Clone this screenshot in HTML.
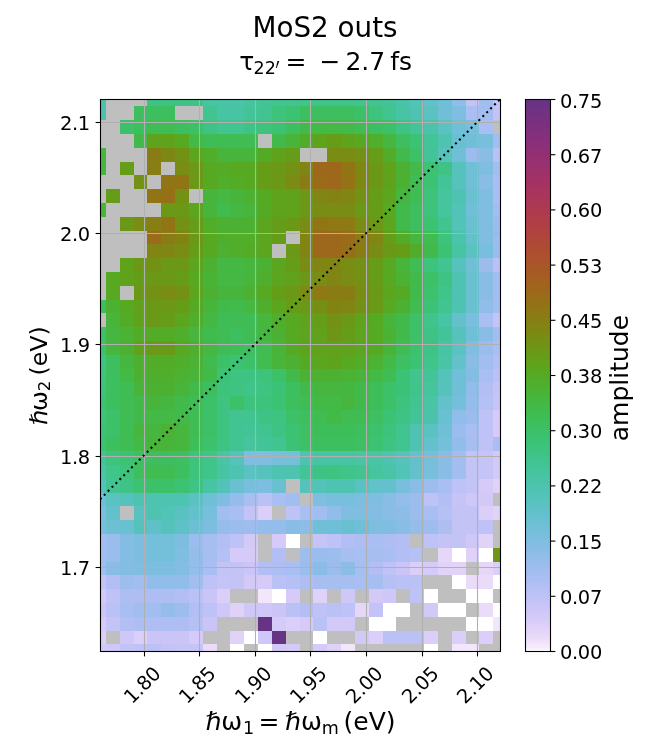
<!DOCTYPE html><html><head><meta charset="utf-8"><title>MoS2 outs</title>
<style>html,body{margin:0;padding:0;background:#fff}svg{display:block}text{font-family:"DejaVu Sans","Liberation Sans",sans-serif;fill:#000}</style></head><body>
<svg width="650" height="751" viewBox="0 0 650 751">
<rect width="650" height="751" fill="#fff"/>
<g shape-rendering="crispEdges">
<rect x="100.5" y="99.5" width="5.8" height="7.29" fill="#4bc3aa"/>
<rect x="106" y="99.5" width="41.79" height="7.29" fill="#bfbfbf"/>
<rect x="147.49" y="99.5" width="55.62" height="7.29" fill="#3ec384"/>
<rect x="202.81" y="99.5" width="27.96" height="7.29" fill="#47c4a3"/>
<rect x="230.47" y="99.5" width="14.13" height="7.29" fill="#4bc3aa"/>
<rect x="244.3" y="99.5" width="14.13" height="7.29" fill="#45c49d"/>
<rect x="258.13" y="99.5" width="14.13" height="7.29" fill="#43c498"/>
<rect x="271.96" y="99.5" width="27.96" height="7.29" fill="#41c490"/>
<rect x="299.62" y="99.5" width="55.62" height="7.29" fill="#3fc48a"/>
<rect x="354.94" y="99.5" width="14.13" height="7.29" fill="#41c490"/>
<rect x="368.77" y="99.5" width="14.13" height="7.29" fill="#41c492"/>
<rect x="382.6" y="99.5" width="14.13" height="7.29" fill="#43c498"/>
<rect x="396.43" y="99.5" width="14.13" height="7.29" fill="#4bc3aa"/>
<rect x="410.26" y="99.5" width="14.13" height="7.29" fill="#52c3b7"/>
<rect x="424.09" y="99.5" width="14.13" height="7.29" fill="#63c1cb"/>
<rect x="437.92" y="99.5" width="14.13" height="7.29" fill="#6fbfd6"/>
<rect x="451.75" y="99.5" width="14.13" height="7.29" fill="#90bdea"/>
<rect x="465.58" y="99.5" width="14.13" height="7.29" fill="#c4c3f6"/>
<rect x="479.41" y="99.5" width="14.13" height="7.29" fill="#a2bdf0"/>
<rect x="493.24" y="99.5" width="7.56" height="7.29" fill="#c4c3f6"/>
<rect x="100.5" y="106.49" width="5.8" height="14.09" fill="#4bc3aa"/>
<rect x="106" y="106.49" width="27.96" height="14.09" fill="#bfbfbf"/>
<rect x="133.66" y="106.49" width="41.79" height="14.09" fill="#3dbf5f"/>
<rect x="175.15" y="106.49" width="27.96" height="14.09" fill="#bfbfbf"/>
<rect x="202.81" y="106.49" width="14.13" height="14.09" fill="#41c490"/>
<rect x="216.64" y="106.49" width="27.96" height="14.09" fill="#47c4a3"/>
<rect x="244.3" y="106.49" width="14.13" height="14.09" fill="#43c498"/>
<rect x="258.13" y="106.49" width="14.13" height="14.09" fill="#41c490"/>
<rect x="271.96" y="106.49" width="14.13" height="14.09" fill="#3dc37c"/>
<rect x="285.79" y="106.49" width="14.13" height="14.09" fill="#3cc273"/>
<rect x="299.62" y="106.49" width="55.62" height="14.09" fill="#3dbf5f"/>
<rect x="354.94" y="106.49" width="14.13" height="14.09" fill="#3cc068"/>
<rect x="368.77" y="106.49" width="14.13" height="14.09" fill="#3ec381"/>
<rect x="382.6" y="106.49" width="14.13" height="14.09" fill="#41c492"/>
<rect x="396.43" y="106.49" width="14.13" height="14.09" fill="#47c4a3"/>
<rect x="410.26" y="106.49" width="14.13" height="14.09" fill="#4fc3b2"/>
<rect x="424.09" y="106.49" width="14.13" height="14.09" fill="#5bc2c2"/>
<rect x="437.92" y="106.49" width="14.13" height="14.09" fill="#6fbfd6"/>
<rect x="451.75" y="106.49" width="14.13" height="14.09" fill="#7fbee1"/>
<rect x="465.58" y="106.49" width="14.13" height="14.09" fill="#a9bef2"/>
<rect x="479.41" y="106.49" width="14.13" height="14.09" fill="#a2bdf0"/>
<rect x="493.24" y="106.49" width="7.56" height="14.09" fill="#c4c3f6"/>
<rect x="100.5" y="120.28" width="19.63" height="14.09" fill="#bfbfbf"/>
<rect x="119.83" y="120.28" width="14.13" height="14.09" fill="#3cc068"/>
<rect x="133.66" y="120.28" width="14.13" height="14.09" fill="#3dbf5f"/>
<rect x="147.49" y="120.28" width="27.96" height="14.09" fill="#3fbc54"/>
<rect x="175.15" y="120.28" width="14.13" height="14.09" fill="#3dbf5f"/>
<rect x="188.98" y="120.28" width="14.13" height="14.09" fill="#3cc068"/>
<rect x="202.81" y="120.28" width="14.13" height="14.09" fill="#3ec384"/>
<rect x="216.64" y="120.28" width="27.96" height="14.09" fill="#41c490"/>
<rect x="244.3" y="120.28" width="14.13" height="14.09" fill="#3ec384"/>
<rect x="258.13" y="120.28" width="14.13" height="14.09" fill="#3dc37c"/>
<rect x="271.96" y="120.28" width="14.13" height="14.09" fill="#3cc273"/>
<rect x="285.79" y="120.28" width="14.13" height="14.09" fill="#3dbf5f"/>
<rect x="299.62" y="120.28" width="14.13" height="14.09" fill="#41ba4b"/>
<rect x="313.45" y="120.28" width="27.96" height="14.09" fill="#43b946"/>
<rect x="341.11" y="120.28" width="14.13" height="14.09" fill="#41ba4b"/>
<rect x="354.94" y="120.28" width="14.13" height="14.09" fill="#3fbc54"/>
<rect x="368.77" y="120.28" width="14.13" height="14.09" fill="#3dbf5f"/>
<rect x="382.6" y="120.28" width="14.13" height="14.09" fill="#3cc068"/>
<rect x="396.43" y="120.28" width="14.13" height="14.09" fill="#3ec384"/>
<rect x="410.26" y="120.28" width="14.13" height="14.09" fill="#43c498"/>
<rect x="424.09" y="120.28" width="14.13" height="14.09" fill="#4bc3aa"/>
<rect x="437.92" y="120.28" width="14.13" height="14.09" fill="#5bc2c2"/>
<rect x="451.75" y="120.28" width="14.13" height="14.09" fill="#6fbfd6"/>
<rect x="465.58" y="120.28" width="14.13" height="14.09" fill="#78bedd"/>
<rect x="479.41" y="120.28" width="14.13" height="14.09" fill="#a9bef2"/>
<rect x="493.24" y="120.28" width="7.56" height="14.09" fill="#bfbfbf"/>
<rect x="100.5" y="134.07" width="33.46" height="14.09" fill="#bfbfbf"/>
<rect x="133.66" y="134.07" width="14.13" height="14.09" fill="#41ba4b"/>
<rect x="147.49" y="134.07" width="27.96" height="14.09" fill="#5fa21c"/>
<rect x="175.15" y="134.07" width="14.13" height="14.09" fill="#57a922"/>
<rect x="188.98" y="134.07" width="14.13" height="14.09" fill="#43b946"/>
<rect x="202.81" y="134.07" width="14.13" height="14.09" fill="#3ebd56"/>
<rect x="216.64" y="134.07" width="41.79" height="14.09" fill="#3fbc54"/>
<rect x="258.13" y="134.07" width="14.13" height="14.09" fill="#bfbfbf"/>
<rect x="271.96" y="134.07" width="14.13" height="14.09" fill="#41ba4b"/>
<rect x="285.79" y="134.07" width="14.13" height="14.09" fill="#48b439"/>
<rect x="299.62" y="134.07" width="14.13" height="14.09" fill="#52ac28"/>
<rect x="313.45" y="134.07" width="14.13" height="14.09" fill="#5fa21c"/>
<rect x="327.28" y="134.07" width="14.13" height="14.09" fill="#659d19"/>
<rect x="341.11" y="134.07" width="14.13" height="14.09" fill="#5fa21c"/>
<rect x="354.94" y="134.07" width="14.13" height="14.09" fill="#57a922"/>
<rect x="368.77" y="134.07" width="14.13" height="14.09" fill="#4faf2d"/>
<rect x="382.6" y="134.07" width="14.13" height="14.09" fill="#45b741"/>
<rect x="396.43" y="134.07" width="14.13" height="14.09" fill="#3dbf5f"/>
<rect x="410.26" y="134.07" width="14.13" height="14.09" fill="#3cc273"/>
<rect x="424.09" y="134.07" width="14.13" height="14.09" fill="#43c498"/>
<rect x="437.92" y="134.07" width="14.13" height="14.09" fill="#4fc3b2"/>
<rect x="451.75" y="134.07" width="14.13" height="14.09" fill="#69c0d1"/>
<rect x="465.58" y="134.07" width="14.13" height="14.09" fill="#6fbfd6"/>
<rect x="479.41" y="134.07" width="14.13" height="14.09" fill="#78bedd"/>
<rect x="493.24" y="134.07" width="7.56" height="14.09" fill="#a2bdf0"/>
<rect x="100.5" y="147.87" width="5.8" height="14.09" fill="#45b741"/>
<rect x="106" y="147.87" width="41.79" height="14.09" fill="#bfbfbf"/>
<rect x="147.49" y="147.87" width="14.13" height="14.09" fill="#8a7c14"/>
<rect x="161.32" y="147.87" width="14.13" height="14.09" fill="#7d8813"/>
<rect x="175.15" y="147.87" width="14.13" height="14.09" fill="#739115"/>
<rect x="188.98" y="147.87" width="14.13" height="14.09" fill="#5ba61e"/>
<rect x="202.81" y="147.87" width="14.13" height="14.09" fill="#50ae2b"/>
<rect x="216.64" y="147.87" width="41.79" height="14.09" fill="#47b53c"/>
<rect x="258.13" y="147.87" width="14.13" height="14.09" fill="#55aa24"/>
<rect x="271.96" y="147.87" width="14.13" height="14.09" fill="#5fa21c"/>
<rect x="285.79" y="147.87" width="14.13" height="14.09" fill="#659d19"/>
<rect x="299.62" y="147.87" width="27.96" height="14.09" fill="#bfbfbf"/>
<rect x="327.28" y="147.87" width="27.96" height="14.09" fill="#798c13"/>
<rect x="354.94" y="147.87" width="14.13" height="14.09" fill="#739115"/>
<rect x="368.77" y="147.87" width="14.13" height="14.09" fill="#659d19"/>
<rect x="382.6" y="147.87" width="14.13" height="14.09" fill="#52ac28"/>
<rect x="396.43" y="147.87" width="14.13" height="14.09" fill="#41ba4b"/>
<rect x="410.26" y="147.87" width="14.13" height="14.09" fill="#3cc068"/>
<rect x="424.09" y="147.87" width="14.13" height="14.09" fill="#43c498"/>
<rect x="437.92" y="147.87" width="14.13" height="14.09" fill="#56c2bc"/>
<rect x="451.75" y="147.87" width="14.13" height="14.09" fill="#6fbfd6"/>
<rect x="465.58" y="147.87" width="14.13" height="14.09" fill="#9abded"/>
<rect x="479.41" y="147.87" width="14.13" height="14.09" fill="#89bde6"/>
<rect x="493.24" y="147.87" width="7.56" height="14.09" fill="#bac1f5"/>
<rect x="100.5" y="161.65" width="5.8" height="14.09" fill="#45b741"/>
<rect x="106" y="161.65" width="14.13" height="14.09" fill="#bfbfbf"/>
<rect x="119.83" y="161.65" width="14.13" height="14.09" fill="#659d19"/>
<rect x="133.66" y="161.65" width="14.13" height="14.09" fill="#bfbfbf"/>
<rect x="147.49" y="161.65" width="14.13" height="14.09" fill="#877f13"/>
<rect x="161.32" y="161.65" width="14.13" height="14.09" fill="#bfbfbf"/>
<rect x="175.15" y="161.65" width="14.13" height="14.09" fill="#798c13"/>
<rect x="188.98" y="161.65" width="14.13" height="14.09" fill="#6b9817"/>
<rect x="202.81" y="161.65" width="14.13" height="14.09" fill="#57a922"/>
<rect x="216.64" y="161.65" width="14.13" height="14.09" fill="#54ab26"/>
<rect x="230.47" y="161.65" width="27.96" height="14.09" fill="#57a922"/>
<rect x="258.13" y="161.65" width="14.13" height="14.09" fill="#659d19"/>
<rect x="271.96" y="161.65" width="14.13" height="14.09" fill="#6b9817"/>
<rect x="285.79" y="161.65" width="14.13" height="14.09" fill="#739115"/>
<rect x="299.62" y="161.65" width="14.13" height="14.09" fill="#818513"/>
<rect x="313.45" y="161.65" width="27.96" height="14.09" fill="#9d681b"/>
<rect x="341.11" y="161.65" width="14.13" height="14.09" fill="#917515"/>
<rect x="354.94" y="161.65" width="14.13" height="14.09" fill="#7d8813"/>
<rect x="368.77" y="161.65" width="14.13" height="14.09" fill="#6b9817"/>
<rect x="382.6" y="161.65" width="14.13" height="14.09" fill="#5fa21c"/>
<rect x="396.43" y="161.65" width="14.13" height="14.09" fill="#4cb132"/>
<rect x="410.26" y="161.65" width="14.13" height="14.09" fill="#41ba4b"/>
<rect x="424.09" y="161.65" width="14.13" height="14.09" fill="#3cc273"/>
<rect x="437.92" y="161.65" width="14.13" height="14.09" fill="#3ec384"/>
<rect x="451.75" y="161.65" width="14.13" height="14.09" fill="#56c2bc"/>
<rect x="465.58" y="161.65" width="14.13" height="14.09" fill="#6fbfd6"/>
<rect x="479.41" y="161.65" width="14.13" height="14.09" fill="#7fbee1"/>
<rect x="493.24" y="161.65" width="7.56" height="14.09" fill="#a2bdf0"/>
<rect x="100.5" y="175.44" width="33.46" height="14.09" fill="#bfbfbf"/>
<rect x="133.66" y="175.44" width="14.13" height="14.09" fill="#739115"/>
<rect x="147.49" y="175.44" width="14.13" height="14.09" fill="#bfbfbf"/>
<rect x="161.32" y="175.44" width="27.96" height="14.09" fill="#917515"/>
<rect x="188.98" y="175.44" width="14.13" height="14.09" fill="#6b9817"/>
<rect x="202.81" y="175.44" width="14.13" height="14.09" fill="#57a922"/>
<rect x="216.64" y="175.44" width="14.13" height="14.09" fill="#50ae2b"/>
<rect x="230.47" y="175.44" width="14.13" height="14.09" fill="#54ab26"/>
<rect x="244.3" y="175.44" width="14.13" height="14.09" fill="#57a922"/>
<rect x="258.13" y="175.44" width="14.13" height="14.09" fill="#659d19"/>
<rect x="271.96" y="175.44" width="14.13" height="14.09" fill="#6b9817"/>
<rect x="285.79" y="175.44" width="14.13" height="14.09" fill="#798c13"/>
<rect x="299.62" y="175.44" width="14.13" height="14.09" fill="#8a7c14"/>
<rect x="313.45" y="175.44" width="14.13" height="14.09" fill="#9a6b19"/>
<rect x="327.28" y="175.44" width="14.13" height="14.09" fill="#9d681b"/>
<rect x="341.11" y="175.44" width="14.13" height="14.09" fill="#947216"/>
<rect x="354.94" y="175.44" width="14.13" height="14.09" fill="#7d8813"/>
<rect x="368.77" y="175.44" width="14.13" height="14.09" fill="#6b9817"/>
<rect x="382.6" y="175.44" width="14.13" height="14.09" fill="#5fa21c"/>
<rect x="396.43" y="175.44" width="14.13" height="14.09" fill="#4cb132"/>
<rect x="410.26" y="175.44" width="14.13" height="14.09" fill="#3fbc54"/>
<rect x="424.09" y="175.44" width="14.13" height="14.09" fill="#3cc273"/>
<rect x="437.92" y="175.44" width="14.13" height="14.09" fill="#43c498"/>
<rect x="451.75" y="175.44" width="14.13" height="14.09" fill="#56c2bc"/>
<rect x="465.58" y="175.44" width="14.13" height="14.09" fill="#6fbfd6"/>
<rect x="479.41" y="175.44" width="14.13" height="14.09" fill="#89bde6"/>
<rect x="493.24" y="175.44" width="7.56" height="14.09" fill="#a9bef2"/>
<rect x="100.5" y="189.23" width="5.8" height="14.09" fill="#bfbfbf"/>
<rect x="106" y="189.23" width="14.13" height="14.09" fill="#659d19"/>
<rect x="119.83" y="189.23" width="27.96" height="14.09" fill="#bfbfbf"/>
<rect x="147.49" y="189.23" width="14.13" height="14.09" fill="#917515"/>
<rect x="161.32" y="189.23" width="14.13" height="14.09" fill="#967017"/>
<rect x="175.15" y="189.23" width="14.13" height="14.09" fill="#739115"/>
<rect x="188.98" y="189.23" width="14.13" height="14.09" fill="#bfbfbf"/>
<rect x="202.81" y="189.23" width="14.13" height="14.09" fill="#47b53c"/>
<rect x="216.64" y="189.23" width="14.13" height="14.09" fill="#44b843"/>
<rect x="230.47" y="189.23" width="14.13" height="14.09" fill="#47b53c"/>
<rect x="244.3" y="189.23" width="14.13" height="14.09" fill="#4cb132"/>
<rect x="258.13" y="189.23" width="14.13" height="14.09" fill="#55aa24"/>
<rect x="271.96" y="189.23" width="27.96" height="14.09" fill="#5fa21c"/>
<rect x="299.62" y="189.23" width="14.13" height="14.09" fill="#6b9817"/>
<rect x="313.45" y="189.23" width="14.13" height="14.09" fill="#818513"/>
<rect x="327.28" y="189.23" width="14.13" height="14.09" fill="#838313"/>
<rect x="341.11" y="189.23" width="14.13" height="14.09" fill="#818513"/>
<rect x="354.94" y="189.23" width="14.13" height="14.09" fill="#739115"/>
<rect x="368.77" y="189.23" width="14.13" height="14.09" fill="#659d19"/>
<rect x="382.6" y="189.23" width="14.13" height="14.09" fill="#5ba61e"/>
<rect x="396.43" y="189.23" width="14.13" height="14.09" fill="#45b741"/>
<rect x="410.26" y="189.23" width="14.13" height="14.09" fill="#3fbc54"/>
<rect x="424.09" y="189.23" width="14.13" height="14.09" fill="#3dc37c"/>
<rect x="437.92" y="189.23" width="14.13" height="14.09" fill="#45c49d"/>
<rect x="451.75" y="189.23" width="14.13" height="14.09" fill="#4fc3b2"/>
<rect x="465.58" y="189.23" width="14.13" height="14.09" fill="#69c0d1"/>
<rect x="479.41" y="189.23" width="14.13" height="14.09" fill="#7fbee1"/>
<rect x="493.24" y="189.23" width="7.56" height="14.09" fill="#a9bef2"/>
<rect x="100.5" y="203.02" width="5.8" height="14.09" fill="#48b439"/>
<rect x="106" y="203.02" width="55.62" height="14.09" fill="#bfbfbf"/>
<rect x="161.32" y="203.02" width="27.96" height="14.09" fill="#6b9817"/>
<rect x="188.98" y="203.02" width="14.13" height="14.09" fill="#5ba61e"/>
<rect x="202.81" y="203.02" width="14.13" height="14.09" fill="#47b53c"/>
<rect x="216.64" y="203.02" width="14.13" height="14.09" fill="#40bb4e"/>
<rect x="230.47" y="203.02" width="14.13" height="14.09" fill="#44b843"/>
<rect x="244.3" y="203.02" width="14.13" height="14.09" fill="#47b53c"/>
<rect x="258.13" y="203.02" width="14.13" height="14.09" fill="#55aa24"/>
<rect x="271.96" y="203.02" width="27.96" height="14.09" fill="#5fa21c"/>
<rect x="299.62" y="203.02" width="14.13" height="14.09" fill="#6b9817"/>
<rect x="313.45" y="203.02" width="41.79" height="14.09" fill="#798c13"/>
<rect x="354.94" y="203.02" width="14.13" height="14.09" fill="#6b9817"/>
<rect x="368.77" y="203.02" width="14.13" height="14.09" fill="#659d19"/>
<rect x="382.6" y="203.02" width="14.13" height="14.09" fill="#57a922"/>
<rect x="396.43" y="203.02" width="14.13" height="14.09" fill="#41ba4b"/>
<rect x="410.26" y="203.02" width="14.13" height="14.09" fill="#3dbf5f"/>
<rect x="424.09" y="203.02" width="14.13" height="14.09" fill="#3dc37c"/>
<rect x="437.92" y="203.02" width="14.13" height="14.09" fill="#45c49d"/>
<rect x="451.75" y="203.02" width="14.13" height="14.09" fill="#52c3b7"/>
<rect x="465.58" y="203.02" width="14.13" height="14.09" fill="#6fbfd6"/>
<rect x="479.41" y="203.02" width="14.13" height="14.09" fill="#7fbee1"/>
<rect x="493.24" y="203.02" width="7.56" height="14.09" fill="#a2bdf0"/>
<rect x="100.5" y="216.81" width="19.63" height="14.09" fill="#bfbfbf"/>
<rect x="119.83" y="216.81" width="14.13" height="14.09" fill="#6b9817"/>
<rect x="133.66" y="216.81" width="14.13" height="14.09" fill="#798c13"/>
<rect x="147.49" y="216.81" width="14.13" height="14.09" fill="#877f13"/>
<rect x="161.32" y="216.81" width="14.13" height="14.09" fill="#917515"/>
<rect x="175.15" y="216.81" width="14.13" height="14.09" fill="#739115"/>
<rect x="188.98" y="216.81" width="14.13" height="14.09" fill="#659d19"/>
<rect x="202.81" y="216.81" width="14.13" height="14.09" fill="#50ae2b"/>
<rect x="216.64" y="216.81" width="41.79" height="14.09" fill="#4cb132"/>
<rect x="258.13" y="216.81" width="14.13" height="14.09" fill="#5ba61e"/>
<rect x="271.96" y="216.81" width="14.13" height="14.09" fill="#659d19"/>
<rect x="285.79" y="216.81" width="14.13" height="14.09" fill="#6b9817"/>
<rect x="299.62" y="216.81" width="14.13" height="14.09" fill="#798c13"/>
<rect x="313.45" y="216.81" width="14.13" height="14.09" fill="#917515"/>
<rect x="327.28" y="216.81" width="27.96" height="14.09" fill="#8e7914"/>
<rect x="354.94" y="216.81" width="14.13" height="14.09" fill="#798c13"/>
<rect x="368.77" y="216.81" width="14.13" height="14.09" fill="#6b9817"/>
<rect x="382.6" y="216.81" width="14.13" height="14.09" fill="#5ba61e"/>
<rect x="396.43" y="216.81" width="14.13" height="14.09" fill="#41ba4b"/>
<rect x="410.26" y="216.81" width="14.13" height="14.09" fill="#3dbf5f"/>
<rect x="424.09" y="216.81" width="14.13" height="14.09" fill="#3cc273"/>
<rect x="437.92" y="216.81" width="14.13" height="14.09" fill="#41c490"/>
<rect x="451.75" y="216.81" width="14.13" height="14.09" fill="#52c3b7"/>
<rect x="465.58" y="216.81" width="14.13" height="14.09" fill="#69c0d1"/>
<rect x="479.41" y="216.81" width="14.13" height="14.09" fill="#7fbee1"/>
<rect x="493.24" y="216.81" width="7.56" height="14.09" fill="#9abded"/>
<rect x="100.5" y="230.6" width="47.29" height="14.09" fill="#bfbfbf"/>
<rect x="147.49" y="230.6" width="14.13" height="14.09" fill="#9a6b19"/>
<rect x="161.32" y="230.6" width="14.13" height="14.09" fill="#8a7c14"/>
<rect x="175.15" y="230.6" width="14.13" height="14.09" fill="#838313"/>
<rect x="188.98" y="230.6" width="14.13" height="14.09" fill="#6b9817"/>
<rect x="202.81" y="230.6" width="14.13" height="14.09" fill="#57a922"/>
<rect x="216.64" y="230.6" width="41.79" height="14.09" fill="#50ae2b"/>
<rect x="258.13" y="230.6" width="14.13" height="14.09" fill="#5ba61e"/>
<rect x="271.96" y="230.6" width="14.13" height="14.09" fill="#659d19"/>
<rect x="285.79" y="230.6" width="14.13" height="14.09" fill="#bfbfbf"/>
<rect x="299.62" y="230.6" width="14.13" height="14.09" fill="#818513"/>
<rect x="313.45" y="230.6" width="27.96" height="14.09" fill="#9d681b"/>
<rect x="341.11" y="230.6" width="14.13" height="14.09" fill="#9a6b19"/>
<rect x="354.94" y="230.6" width="14.13" height="14.09" fill="#8a7c14"/>
<rect x="368.77" y="230.6" width="14.13" height="14.09" fill="#818513"/>
<rect x="382.6" y="230.6" width="14.13" height="14.09" fill="#659d19"/>
<rect x="396.43" y="230.6" width="14.13" height="14.09" fill="#52ac28"/>
<rect x="410.26" y="230.6" width="14.13" height="14.09" fill="#46b63e"/>
<rect x="424.09" y="230.6" width="14.13" height="14.09" fill="#40bc51"/>
<rect x="437.92" y="230.6" width="14.13" height="14.09" fill="#3dc37c"/>
<rect x="451.75" y="230.6" width="14.13" height="14.09" fill="#4bc3aa"/>
<rect x="465.58" y="230.6" width="14.13" height="14.09" fill="#63c1cb"/>
<rect x="479.41" y="230.6" width="14.13" height="14.09" fill="#7fbee1"/>
<rect x="493.24" y="230.6" width="7.56" height="14.09" fill="#9abded"/>
<rect x="100.5" y="244.39" width="47.29" height="14.09" fill="#bfbfbf"/>
<rect x="147.49" y="244.39" width="27.96" height="14.09" fill="#818513"/>
<rect x="175.15" y="244.39" width="14.13" height="14.09" fill="#798c13"/>
<rect x="188.98" y="244.39" width="14.13" height="14.09" fill="#659d19"/>
<rect x="202.81" y="244.39" width="14.13" height="14.09" fill="#57a922"/>
<rect x="216.64" y="244.39" width="14.13" height="14.09" fill="#4cb132"/>
<rect x="230.47" y="244.39" width="14.13" height="14.09" fill="#50ae2b"/>
<rect x="244.3" y="244.39" width="14.13" height="14.09" fill="#54ab26"/>
<rect x="258.13" y="244.39" width="14.13" height="14.09" fill="#5ba61e"/>
<rect x="271.96" y="244.39" width="14.13" height="14.09" fill="#bfbfbf"/>
<rect x="285.79" y="244.39" width="14.13" height="14.09" fill="#6b9817"/>
<rect x="299.62" y="244.39" width="14.13" height="14.09" fill="#818513"/>
<rect x="313.45" y="244.39" width="27.96" height="14.09" fill="#9d681b"/>
<rect x="341.11" y="244.39" width="14.13" height="14.09" fill="#976e18"/>
<rect x="354.94" y="244.39" width="14.13" height="14.09" fill="#8a7c14"/>
<rect x="368.77" y="244.39" width="14.13" height="14.09" fill="#798c13"/>
<rect x="382.6" y="244.39" width="14.13" height="14.09" fill="#6b9817"/>
<rect x="396.43" y="244.39" width="14.13" height="14.09" fill="#659d19"/>
<rect x="410.26" y="244.39" width="14.13" height="14.09" fill="#52ac28"/>
<rect x="424.09" y="244.39" width="14.13" height="14.09" fill="#41ba4b"/>
<rect x="437.92" y="244.39" width="14.13" height="14.09" fill="#3cc273"/>
<rect x="451.75" y="244.39" width="14.13" height="14.09" fill="#47c4a3"/>
<rect x="465.58" y="244.39" width="14.13" height="14.09" fill="#5bc2c2"/>
<rect x="479.41" y="244.39" width="14.13" height="14.09" fill="#78bedd"/>
<rect x="493.24" y="244.39" width="7.56" height="14.09" fill="#9abded"/>
<rect x="100.5" y="258.18" width="19.63" height="14.09" fill="#bfbfbf"/>
<rect x="119.83" y="258.18" width="14.13" height="14.09" fill="#5fa21c"/>
<rect x="133.66" y="258.18" width="14.13" height="14.09" fill="#6b9817"/>
<rect x="147.49" y="258.18" width="14.13" height="14.09" fill="#739115"/>
<rect x="161.32" y="258.18" width="27.96" height="14.09" fill="#6b9817"/>
<rect x="188.98" y="258.18" width="14.13" height="14.09" fill="#5ba61e"/>
<rect x="202.81" y="258.18" width="14.13" height="14.09" fill="#4cb132"/>
<rect x="216.64" y="258.18" width="27.96" height="14.09" fill="#44b843"/>
<rect x="244.3" y="258.18" width="14.13" height="14.09" fill="#46b63e"/>
<rect x="258.13" y="258.18" width="14.13" height="14.09" fill="#4cb132"/>
<rect x="271.96" y="258.18" width="14.13" height="14.09" fill="#5ba61e"/>
<rect x="285.79" y="258.18" width="14.13" height="14.09" fill="#659d19"/>
<rect x="299.62" y="258.18" width="14.13" height="14.09" fill="#798c13"/>
<rect x="313.45" y="258.18" width="27.96" height="14.09" fill="#818513"/>
<rect x="341.11" y="258.18" width="14.13" height="14.09" fill="#798c13"/>
<rect x="354.94" y="258.18" width="14.13" height="14.09" fill="#739115"/>
<rect x="368.77" y="258.18" width="14.13" height="14.09" fill="#659d19"/>
<rect x="382.6" y="258.18" width="14.13" height="14.09" fill="#57a922"/>
<rect x="396.43" y="258.18" width="14.13" height="14.09" fill="#48b439"/>
<rect x="410.26" y="258.18" width="14.13" height="14.09" fill="#3fbc54"/>
<rect x="424.09" y="258.18" width="14.13" height="14.09" fill="#3dc37c"/>
<rect x="437.92" y="258.18" width="14.13" height="14.09" fill="#41c490"/>
<rect x="451.75" y="258.18" width="14.13" height="14.09" fill="#56c2bc"/>
<rect x="465.58" y="258.18" width="14.13" height="14.09" fill="#6fbfd6"/>
<rect x="479.41" y="258.18" width="14.13" height="14.09" fill="#9abded"/>
<rect x="493.24" y="258.18" width="7.56" height="14.09" fill="#bac1f5"/>
<rect x="100.5" y="271.98" width="5.8" height="14.09" fill="#bfbfbf"/>
<rect x="106" y="271.98" width="14.13" height="14.09" fill="#57a922"/>
<rect x="119.83" y="271.98" width="14.13" height="14.09" fill="#5fa21c"/>
<rect x="133.66" y="271.98" width="14.13" height="14.09" fill="#659d19"/>
<rect x="147.49" y="271.98" width="27.96" height="14.09" fill="#6b9817"/>
<rect x="175.15" y="271.98" width="14.13" height="14.09" fill="#659d19"/>
<rect x="188.98" y="271.98" width="14.13" height="14.09" fill="#57a922"/>
<rect x="202.81" y="271.98" width="14.13" height="14.09" fill="#49b336"/>
<rect x="216.64" y="271.98" width="27.96" height="14.09" fill="#44b843"/>
<rect x="244.3" y="271.98" width="14.13" height="14.09" fill="#47b53c"/>
<rect x="258.13" y="271.98" width="14.13" height="14.09" fill="#4faf2d"/>
<rect x="271.96" y="271.98" width="14.13" height="14.09" fill="#5ba61e"/>
<rect x="285.79" y="271.98" width="14.13" height="14.09" fill="#61a11b"/>
<rect x="299.62" y="271.98" width="14.13" height="14.09" fill="#6b9817"/>
<rect x="313.45" y="271.98" width="14.13" height="14.09" fill="#798c13"/>
<rect x="327.28" y="271.98" width="14.13" height="14.09" fill="#818513"/>
<rect x="341.11" y="271.98" width="14.13" height="14.09" fill="#798c13"/>
<rect x="354.94" y="271.98" width="14.13" height="14.09" fill="#739115"/>
<rect x="368.77" y="271.98" width="14.13" height="14.09" fill="#659d19"/>
<rect x="382.6" y="271.98" width="14.13" height="14.09" fill="#57a922"/>
<rect x="396.43" y="271.98" width="14.13" height="14.09" fill="#4bb234"/>
<rect x="410.26" y="271.98" width="14.13" height="14.09" fill="#41ba4b"/>
<rect x="424.09" y="271.98" width="14.13" height="14.09" fill="#3cc068"/>
<rect x="437.92" y="271.98" width="14.13" height="14.09" fill="#3ec384"/>
<rect x="451.75" y="271.98" width="14.13" height="14.09" fill="#4fc3b2"/>
<rect x="465.58" y="271.98" width="14.13" height="14.09" fill="#69c0d1"/>
<rect x="479.41" y="271.98" width="14.13" height="14.09" fill="#89bde6"/>
<rect x="493.24" y="271.98" width="7.56" height="14.09" fill="#a2bdf0"/>
<rect x="100.5" y="285.76" width="5.8" height="14.09" fill="#bfbfbf"/>
<rect x="106" y="285.76" width="14.13" height="14.09" fill="#57a922"/>
<rect x="119.83" y="285.76" width="14.13" height="14.09" fill="#bfbfbf"/>
<rect x="133.66" y="285.76" width="14.13" height="14.09" fill="#6b9817"/>
<rect x="147.49" y="285.76" width="14.13" height="14.09" fill="#739115"/>
<rect x="161.32" y="285.76" width="14.13" height="14.09" fill="#798c13"/>
<rect x="175.15" y="285.76" width="14.13" height="14.09" fill="#739115"/>
<rect x="188.98" y="285.76" width="14.13" height="14.09" fill="#5ba61e"/>
<rect x="202.81" y="285.76" width="14.13" height="14.09" fill="#4cb132"/>
<rect x="216.64" y="285.76" width="27.96" height="14.09" fill="#47b53c"/>
<rect x="244.3" y="285.76" width="14.13" height="14.09" fill="#4cb132"/>
<rect x="258.13" y="285.76" width="14.13" height="14.09" fill="#57a922"/>
<rect x="271.96" y="285.76" width="14.13" height="14.09" fill="#659d19"/>
<rect x="285.79" y="285.76" width="14.13" height="14.09" fill="#6b9817"/>
<rect x="299.62" y="285.76" width="14.13" height="14.09" fill="#798c13"/>
<rect x="313.45" y="285.76" width="14.13" height="14.09" fill="#8e7914"/>
<rect x="327.28" y="285.76" width="27.96" height="14.09" fill="#8a7c14"/>
<rect x="354.94" y="285.76" width="14.13" height="14.09" fill="#798c13"/>
<rect x="368.77" y="285.76" width="14.13" height="14.09" fill="#699a17"/>
<rect x="382.6" y="285.76" width="14.13" height="14.09" fill="#5ba61e"/>
<rect x="396.43" y="285.76" width="14.13" height="14.09" fill="#55aa24"/>
<rect x="410.26" y="285.76" width="14.13" height="14.09" fill="#41ba4b"/>
<rect x="424.09" y="285.76" width="14.13" height="14.09" fill="#3cc16d"/>
<rect x="437.92" y="285.76" width="14.13" height="14.09" fill="#3fc48a"/>
<rect x="451.75" y="285.76" width="14.13" height="14.09" fill="#4fc3b2"/>
<rect x="465.58" y="285.76" width="14.13" height="14.09" fill="#69c0d1"/>
<rect x="479.41" y="285.76" width="14.13" height="14.09" fill="#89bde6"/>
<rect x="493.24" y="285.76" width="7.56" height="14.09" fill="#a2bdf0"/>
<rect x="100.5" y="299.55" width="5.8" height="14.09" fill="#3dbf5f"/>
<rect x="106" y="299.55" width="14.13" height="14.09" fill="#4cb132"/>
<rect x="119.83" y="299.55" width="14.13" height="14.09" fill="#57a922"/>
<rect x="133.66" y="299.55" width="14.13" height="14.09" fill="#61a11b"/>
<rect x="147.49" y="299.55" width="27.96" height="14.09" fill="#6b9817"/>
<rect x="175.15" y="299.55" width="14.13" height="14.09" fill="#659d19"/>
<rect x="188.98" y="299.55" width="14.13" height="14.09" fill="#55aa24"/>
<rect x="202.81" y="299.55" width="14.13" height="14.09" fill="#47b53c"/>
<rect x="216.64" y="299.55" width="14.13" height="14.09" fill="#42ba49"/>
<rect x="230.47" y="299.55" width="14.13" height="14.09" fill="#40bb4e"/>
<rect x="244.3" y="299.55" width="14.13" height="14.09" fill="#44b843"/>
<rect x="258.13" y="299.55" width="14.13" height="14.09" fill="#4faf2d"/>
<rect x="271.96" y="299.55" width="14.13" height="14.09" fill="#5ba61e"/>
<rect x="285.79" y="299.55" width="14.13" height="14.09" fill="#659d19"/>
<rect x="299.62" y="299.55" width="14.13" height="14.09" fill="#6b9817"/>
<rect x="313.45" y="299.55" width="14.13" height="14.09" fill="#778e14"/>
<rect x="327.28" y="299.55" width="14.13" height="14.09" fill="#838313"/>
<rect x="341.11" y="299.55" width="14.13" height="14.09" fill="#818513"/>
<rect x="354.94" y="299.55" width="14.13" height="14.09" fill="#739115"/>
<rect x="368.77" y="299.55" width="14.13" height="14.09" fill="#699a17"/>
<rect x="382.6" y="299.55" width="14.13" height="14.09" fill="#57a922"/>
<rect x="396.43" y="299.55" width="14.13" height="14.09" fill="#4cb132"/>
<rect x="410.26" y="299.55" width="14.13" height="14.09" fill="#40bc51"/>
<rect x="424.09" y="299.55" width="14.13" height="14.09" fill="#3cc276"/>
<rect x="437.92" y="299.55" width="14.13" height="14.09" fill="#41c490"/>
<rect x="451.75" y="299.55" width="14.13" height="14.09" fill="#4fc3b2"/>
<rect x="465.58" y="299.55" width="14.13" height="14.09" fill="#69c0d1"/>
<rect x="479.41" y="299.55" width="14.13" height="14.09" fill="#90bdea"/>
<rect x="493.24" y="299.55" width="7.56" height="14.09" fill="#a2bdf0"/>
<rect x="100.5" y="313.34" width="5.8" height="14.09" fill="#bfbfbf"/>
<rect x="106" y="313.34" width="14.13" height="14.09" fill="#48b439"/>
<rect x="119.83" y="313.34" width="14.13" height="14.09" fill="#52ac28"/>
<rect x="133.66" y="313.34" width="14.13" height="14.09" fill="#5fa21c"/>
<rect x="147.49" y="313.34" width="14.13" height="14.09" fill="#6b9817"/>
<rect x="161.32" y="313.34" width="14.13" height="14.09" fill="#659d19"/>
<rect x="175.15" y="313.34" width="14.13" height="14.09" fill="#5ba61e"/>
<rect x="188.98" y="313.34" width="14.13" height="14.09" fill="#4faf2d"/>
<rect x="202.81" y="313.34" width="14.13" height="14.09" fill="#44b843"/>
<rect x="216.64" y="313.34" width="14.13" height="14.09" fill="#3ebd56"/>
<rect x="230.47" y="313.34" width="14.13" height="14.09" fill="#3fbc54"/>
<rect x="244.3" y="313.34" width="14.13" height="14.09" fill="#3ebd56"/>
<rect x="258.13" y="313.34" width="14.13" height="14.09" fill="#46b63e"/>
<rect x="271.96" y="313.34" width="14.13" height="14.09" fill="#4faf2d"/>
<rect x="285.79" y="313.34" width="14.13" height="14.09" fill="#57a922"/>
<rect x="299.62" y="313.34" width="14.13" height="14.09" fill="#5fa21c"/>
<rect x="313.45" y="313.34" width="14.13" height="14.09" fill="#659d19"/>
<rect x="327.28" y="313.34" width="14.13" height="14.09" fill="#739115"/>
<rect x="341.11" y="313.34" width="14.13" height="14.09" fill="#6b9817"/>
<rect x="354.94" y="313.34" width="14.13" height="14.09" fill="#5fa21c"/>
<rect x="368.77" y="313.34" width="14.13" height="14.09" fill="#55aa24"/>
<rect x="382.6" y="313.34" width="14.13" height="14.09" fill="#48b439"/>
<rect x="396.43" y="313.34" width="14.13" height="14.09" fill="#41ba4b"/>
<rect x="410.26" y="313.34" width="14.13" height="14.09" fill="#3cc068"/>
<rect x="424.09" y="313.34" width="14.13" height="14.09" fill="#3fc48a"/>
<rect x="437.92" y="313.34" width="14.13" height="14.09" fill="#47c4a3"/>
<rect x="451.75" y="313.34" width="14.13" height="14.09" fill="#63c1cb"/>
<rect x="465.58" y="313.34" width="14.13" height="14.09" fill="#78bedd"/>
<rect x="479.41" y="313.34" width="14.13" height="14.09" fill="#a9bef2"/>
<rect x="493.24" y="313.34" width="7.56" height="14.09" fill="#c4c3f6"/>
<rect x="100.5" y="327.13" width="5.8" height="14.09" fill="#3cc068"/>
<rect x="106" y="327.13" width="14.13" height="14.09" fill="#45b741"/>
<rect x="119.83" y="327.13" width="14.13" height="14.09" fill="#4bb234"/>
<rect x="133.66" y="327.13" width="41.79" height="14.09" fill="#52ac28"/>
<rect x="175.15" y="327.13" width="14.13" height="14.09" fill="#4faf2d"/>
<rect x="188.98" y="327.13" width="14.13" height="14.09" fill="#46b63e"/>
<rect x="202.81" y="327.13" width="14.13" height="14.09" fill="#40bb4e"/>
<rect x="216.64" y="327.13" width="14.13" height="14.09" fill="#3fbc54"/>
<rect x="230.47" y="327.13" width="14.13" height="14.09" fill="#3dbf5f"/>
<rect x="244.3" y="327.13" width="14.13" height="14.09" fill="#3fbc54"/>
<rect x="258.13" y="327.13" width="14.13" height="14.09" fill="#45b741"/>
<rect x="271.96" y="327.13" width="14.13" height="14.09" fill="#4cb132"/>
<rect x="285.79" y="327.13" width="14.13" height="14.09" fill="#57a922"/>
<rect x="299.62" y="327.13" width="14.13" height="14.09" fill="#5ba61e"/>
<rect x="313.45" y="327.13" width="14.13" height="14.09" fill="#61a11b"/>
<rect x="327.28" y="327.13" width="14.13" height="14.09" fill="#6f9516"/>
<rect x="341.11" y="327.13" width="14.13" height="14.09" fill="#659d19"/>
<rect x="354.94" y="327.13" width="14.13" height="14.09" fill="#5ba61e"/>
<rect x="368.77" y="327.13" width="14.13" height="14.09" fill="#55aa24"/>
<rect x="382.6" y="327.13" width="14.13" height="14.09" fill="#4bb234"/>
<rect x="396.43" y="327.13" width="14.13" height="14.09" fill="#41ba4b"/>
<rect x="410.26" y="327.13" width="14.13" height="14.09" fill="#3cc068"/>
<rect x="424.09" y="327.13" width="14.13" height="14.09" fill="#3ec384"/>
<rect x="437.92" y="327.13" width="14.13" height="14.09" fill="#43c498"/>
<rect x="451.75" y="327.13" width="14.13" height="14.09" fill="#56c2bc"/>
<rect x="465.58" y="327.13" width="14.13" height="14.09" fill="#6fbfd6"/>
<rect x="479.41" y="327.13" width="14.13" height="14.09" fill="#89bde6"/>
<rect x="493.24" y="327.13" width="7.56" height="14.09" fill="#a2bdf0"/>
<rect x="100.5" y="340.92" width="5.8" height="14.09" fill="#3cc068"/>
<rect x="106" y="340.92" width="14.13" height="14.09" fill="#45b741"/>
<rect x="119.83" y="340.92" width="14.13" height="14.09" fill="#4cb132"/>
<rect x="133.66" y="340.92" width="14.13" height="14.09" fill="#61a11b"/>
<rect x="147.49" y="340.92" width="14.13" height="14.09" fill="#6b9817"/>
<rect x="161.32" y="340.92" width="14.13" height="14.09" fill="#699a17"/>
<rect x="175.15" y="340.92" width="14.13" height="14.09" fill="#57a922"/>
<rect x="188.98" y="340.92" width="14.13" height="14.09" fill="#4faf2d"/>
<rect x="202.81" y="340.92" width="14.13" height="14.09" fill="#44b843"/>
<rect x="216.64" y="340.92" width="14.13" height="14.09" fill="#3ebd56"/>
<rect x="230.47" y="340.92" width="14.13" height="14.09" fill="#3ebe59"/>
<rect x="244.3" y="340.92" width="14.13" height="14.09" fill="#3dbf5f"/>
<rect x="258.13" y="340.92" width="14.13" height="14.09" fill="#40bc51"/>
<rect x="271.96" y="340.92" width="14.13" height="14.09" fill="#48b439"/>
<rect x="285.79" y="340.92" width="14.13" height="14.09" fill="#55aa24"/>
<rect x="299.62" y="340.92" width="14.13" height="14.09" fill="#5fa21c"/>
<rect x="313.45" y="340.92" width="41.79" height="14.09" fill="#61a11b"/>
<rect x="354.94" y="340.92" width="14.13" height="14.09" fill="#5ba61e"/>
<rect x="368.77" y="340.92" width="14.13" height="14.09" fill="#55aa24"/>
<rect x="382.6" y="340.92" width="14.13" height="14.09" fill="#48b439"/>
<rect x="396.43" y="340.92" width="14.13" height="14.09" fill="#3fbc54"/>
<rect x="410.26" y="340.92" width="14.13" height="14.09" fill="#3cc16d"/>
<rect x="424.09" y="340.92" width="14.13" height="14.09" fill="#3ec384"/>
<rect x="437.92" y="340.92" width="14.13" height="14.09" fill="#47c4a3"/>
<rect x="451.75" y="340.92" width="14.13" height="14.09" fill="#5bc2c2"/>
<rect x="465.58" y="340.92" width="14.13" height="14.09" fill="#7fbee1"/>
<rect x="479.41" y="340.92" width="14.13" height="14.09" fill="#9abded"/>
<rect x="493.24" y="340.92" width="7.56" height="14.09" fill="#a9bef2"/>
<rect x="100.5" y="354.71" width="5.8" height="14.09" fill="#3ec384"/>
<rect x="106" y="354.71" width="14.13" height="14.09" fill="#3dbf5f"/>
<rect x="119.83" y="354.71" width="14.13" height="14.09" fill="#45b741"/>
<rect x="133.66" y="354.71" width="14.13" height="14.09" fill="#4cb132"/>
<rect x="147.49" y="354.71" width="27.96" height="14.09" fill="#52ac28"/>
<rect x="175.15" y="354.71" width="14.13" height="14.09" fill="#4faf2d"/>
<rect x="188.98" y="354.71" width="14.13" height="14.09" fill="#4bb234"/>
<rect x="202.81" y="354.71" width="14.13" height="14.09" fill="#40bb4e"/>
<rect x="216.64" y="354.71" width="14.13" height="14.09" fill="#3cc068"/>
<rect x="230.47" y="354.71" width="14.13" height="14.09" fill="#3cc273"/>
<rect x="244.3" y="354.71" width="14.13" height="14.09" fill="#3cc068"/>
<rect x="258.13" y="354.71" width="14.13" height="14.09" fill="#40bc51"/>
<rect x="271.96" y="354.71" width="14.13" height="14.09" fill="#48b439"/>
<rect x="285.79" y="354.71" width="14.13" height="14.09" fill="#4cb132"/>
<rect x="299.62" y="354.71" width="14.13" height="14.09" fill="#55aa24"/>
<rect x="313.45" y="354.71" width="14.13" height="14.09" fill="#5ba61e"/>
<rect x="327.28" y="354.71" width="14.13" height="14.09" fill="#5fa21c"/>
<rect x="341.11" y="354.71" width="14.13" height="14.09" fill="#57a922"/>
<rect x="354.94" y="354.71" width="14.13" height="14.09" fill="#52ac28"/>
<rect x="368.77" y="354.71" width="14.13" height="14.09" fill="#4bb234"/>
<rect x="382.6" y="354.71" width="14.13" height="14.09" fill="#43b946"/>
<rect x="396.43" y="354.71" width="14.13" height="14.09" fill="#3dbf62"/>
<rect x="410.26" y="354.71" width="14.13" height="14.09" fill="#3cc273"/>
<rect x="424.09" y="354.71" width="14.13" height="14.09" fill="#3fc48a"/>
<rect x="437.92" y="354.71" width="14.13" height="14.09" fill="#49c4a5"/>
<rect x="451.75" y="354.71" width="14.13" height="14.09" fill="#63c1cb"/>
<rect x="465.58" y="354.71" width="14.13" height="14.09" fill="#89bde6"/>
<rect x="479.41" y="354.71" width="14.13" height="14.09" fill="#a2bdf0"/>
<rect x="493.24" y="354.71" width="7.56" height="14.09" fill="#b3bff4"/>
<rect x="100.5" y="368.5" width="5.8" height="14.09" fill="#3ec381"/>
<rect x="106" y="368.5" width="14.13" height="14.09" fill="#3dbf5f"/>
<rect x="119.83" y="368.5" width="14.13" height="14.09" fill="#43b946"/>
<rect x="133.66" y="368.5" width="14.13" height="14.09" fill="#4cb132"/>
<rect x="147.49" y="368.5" width="27.96" height="14.09" fill="#4faf2d"/>
<rect x="175.15" y="368.5" width="14.13" height="14.09" fill="#4bb234"/>
<rect x="188.98" y="368.5" width="14.13" height="14.09" fill="#48b439"/>
<rect x="202.81" y="368.5" width="14.13" height="14.09" fill="#41ba4b"/>
<rect x="216.64" y="368.5" width="14.13" height="14.09" fill="#3cc276"/>
<rect x="230.47" y="368.5" width="14.13" height="14.09" fill="#3ec381"/>
<rect x="244.3" y="368.5" width="14.13" height="14.09" fill="#3ec384"/>
<rect x="258.13" y="368.5" width="14.13" height="14.09" fill="#3dc37c"/>
<rect x="271.96" y="368.5" width="14.13" height="14.09" fill="#3cc068"/>
<rect x="285.79" y="368.5" width="14.13" height="14.09" fill="#41ba4b"/>
<rect x="299.62" y="368.5" width="14.13" height="14.09" fill="#4bb234"/>
<rect x="313.45" y="368.5" width="27.96" height="14.09" fill="#4cb132"/>
<rect x="341.11" y="368.5" width="14.13" height="14.09" fill="#4bb234"/>
<rect x="354.94" y="368.5" width="14.13" height="14.09" fill="#48b439"/>
<rect x="368.77" y="368.5" width="14.13" height="14.09" fill="#43b946"/>
<rect x="382.6" y="368.5" width="14.13" height="14.09" fill="#3fbc54"/>
<rect x="396.43" y="368.5" width="14.13" height="14.09" fill="#3cc273"/>
<rect x="410.26" y="368.5" width="14.13" height="14.09" fill="#41c490"/>
<rect x="424.09" y="368.5" width="14.13" height="14.09" fill="#43c498"/>
<rect x="437.92" y="368.5" width="14.13" height="14.09" fill="#56c2bc"/>
<rect x="451.75" y="368.5" width="14.13" height="14.09" fill="#6fbfd6"/>
<rect x="465.58" y="368.5" width="14.13" height="14.09" fill="#84bde4"/>
<rect x="479.41" y="368.5" width="14.13" height="14.09" fill="#a9bef2"/>
<rect x="493.24" y="368.5" width="7.56" height="14.09" fill="#bac1f5"/>
<rect x="100.5" y="382.29" width="5.8" height="14.09" fill="#3dc37c"/>
<rect x="106" y="382.29" width="14.13" height="14.09" fill="#3dbf5f"/>
<rect x="119.83" y="382.29" width="14.13" height="14.09" fill="#3fbc54"/>
<rect x="133.66" y="382.29" width="14.13" height="14.09" fill="#48b439"/>
<rect x="147.49" y="382.29" width="27.96" height="14.09" fill="#4cb132"/>
<rect x="175.15" y="382.29" width="14.13" height="14.09" fill="#48b439"/>
<rect x="188.98" y="382.29" width="14.13" height="14.09" fill="#41ba4b"/>
<rect x="202.81" y="382.29" width="14.13" height="14.09" fill="#3dbf5f"/>
<rect x="216.64" y="382.29" width="14.13" height="14.09" fill="#3dc37c"/>
<rect x="230.47" y="382.29" width="14.13" height="14.09" fill="#3ec381"/>
<rect x="244.3" y="382.29" width="14.13" height="14.09" fill="#3fc48a"/>
<rect x="258.13" y="382.29" width="14.13" height="14.09" fill="#3ec381"/>
<rect x="271.96" y="382.29" width="14.13" height="14.09" fill="#3cc276"/>
<rect x="285.79" y="382.29" width="14.13" height="14.09" fill="#3dbf5f"/>
<rect x="299.62" y="382.29" width="14.13" height="14.09" fill="#41ba4b"/>
<rect x="313.45" y="382.29" width="27.96" height="14.09" fill="#46b63e"/>
<rect x="341.11" y="382.29" width="14.13" height="14.09" fill="#45b741"/>
<rect x="354.94" y="382.29" width="14.13" height="14.09" fill="#41ba4b"/>
<rect x="368.77" y="382.29" width="14.13" height="14.09" fill="#3ebe59"/>
<rect x="382.6" y="382.29" width="14.13" height="14.09" fill="#3cc068"/>
<rect x="396.43" y="382.29" width="14.13" height="14.09" fill="#3cc276"/>
<rect x="410.26" y="382.29" width="14.13" height="14.09" fill="#3fc48a"/>
<rect x="424.09" y="382.29" width="14.13" height="14.09" fill="#45c49d"/>
<rect x="437.92" y="382.29" width="14.13" height="14.09" fill="#56c2bc"/>
<rect x="451.75" y="382.29" width="14.13" height="14.09" fill="#6fbfd6"/>
<rect x="465.58" y="382.29" width="14.13" height="14.09" fill="#90bdea"/>
<rect x="479.41" y="382.29" width="14.13" height="14.09" fill="#b3bff4"/>
<rect x="493.24" y="382.29" width="7.56" height="14.09" fill="#c4c3f6"/>
<rect x="100.5" y="396.08" width="5.8" height="14.09" fill="#3cc273"/>
<rect x="106" y="396.08" width="14.13" height="14.09" fill="#3dbf5f"/>
<rect x="119.83" y="396.08" width="14.13" height="14.09" fill="#3fbc54"/>
<rect x="133.66" y="396.08" width="14.13" height="14.09" fill="#41ba4b"/>
<rect x="147.49" y="396.08" width="14.13" height="14.09" fill="#48b439"/>
<rect x="161.32" y="396.08" width="14.13" height="14.09" fill="#45b741"/>
<rect x="175.15" y="396.08" width="14.13" height="14.09" fill="#41ba4b"/>
<rect x="188.98" y="396.08" width="14.13" height="14.09" fill="#3fbc54"/>
<rect x="202.81" y="396.08" width="14.13" height="14.09" fill="#3cc068"/>
<rect x="216.64" y="396.08" width="14.13" height="14.09" fill="#3ec381"/>
<rect x="230.47" y="396.08" width="14.13" height="14.09" fill="#3cc068"/>
<rect x="244.3" y="396.08" width="27.96" height="14.09" fill="#3dc37c"/>
<rect x="271.96" y="396.08" width="14.13" height="14.09" fill="#3cc273"/>
<rect x="285.79" y="396.08" width="14.13" height="14.09" fill="#3dbf5f"/>
<rect x="299.62" y="396.08" width="14.13" height="14.09" fill="#3fbc54"/>
<rect x="313.45" y="396.08" width="27.96" height="14.09" fill="#43b946"/>
<rect x="341.11" y="396.08" width="14.13" height="14.09" fill="#46b63e"/>
<rect x="354.94" y="396.08" width="14.13" height="14.09" fill="#41ba4b"/>
<rect x="368.77" y="396.08" width="14.13" height="14.09" fill="#3ebe59"/>
<rect x="382.6" y="396.08" width="14.13" height="14.09" fill="#3cc068"/>
<rect x="396.43" y="396.08" width="14.13" height="14.09" fill="#3dc37c"/>
<rect x="410.26" y="396.08" width="14.13" height="14.09" fill="#41c490"/>
<rect x="424.09" y="396.08" width="14.13" height="14.09" fill="#49c4a5"/>
<rect x="437.92" y="396.08" width="14.13" height="14.09" fill="#63c1cb"/>
<rect x="451.75" y="396.08" width="14.13" height="14.09" fill="#74bfd9"/>
<rect x="465.58" y="396.08" width="14.13" height="14.09" fill="#95bdec"/>
<rect x="479.41" y="396.08" width="14.13" height="14.09" fill="#b5c0f4"/>
<rect x="493.24" y="396.08" width="7.56" height="14.09" fill="#c6c4f7"/>
<rect x="100.5" y="409.88" width="5.8" height="14.09" fill="#3dc37c"/>
<rect x="106" y="409.88" width="14.13" height="14.09" fill="#3cc068"/>
<rect x="119.83" y="409.88" width="14.13" height="14.09" fill="#3fbc54"/>
<rect x="133.66" y="409.88" width="14.13" height="14.09" fill="#41ba4b"/>
<rect x="147.49" y="409.88" width="27.96" height="14.09" fill="#43b946"/>
<rect x="175.15" y="409.88" width="14.13" height="14.09" fill="#41ba4b"/>
<rect x="188.98" y="409.88" width="14.13" height="14.09" fill="#3fbc54"/>
<rect x="202.81" y="409.88" width="14.13" height="14.09" fill="#3cc068"/>
<rect x="216.64" y="409.88" width="14.13" height="14.09" fill="#3ec384"/>
<rect x="230.47" y="409.88" width="14.13" height="14.09" fill="#41c492"/>
<rect x="244.3" y="409.88" width="14.13" height="14.09" fill="#41c490"/>
<rect x="258.13" y="409.88" width="14.13" height="14.09" fill="#3ec384"/>
<rect x="271.96" y="409.88" width="14.13" height="14.09" fill="#3ec381"/>
<rect x="285.79" y="409.88" width="14.13" height="14.09" fill="#3cc068"/>
<rect x="299.62" y="409.88" width="14.13" height="14.09" fill="#3dbf5f"/>
<rect x="313.45" y="409.88" width="14.13" height="14.09" fill="#40bc51"/>
<rect x="327.28" y="409.88" width="14.13" height="14.09" fill="#43b946"/>
<rect x="341.11" y="409.88" width="14.13" height="14.09" fill="#40bc51"/>
<rect x="354.94" y="409.88" width="14.13" height="14.09" fill="#3fbc54"/>
<rect x="368.77" y="409.88" width="14.13" height="14.09" fill="#3dbf62"/>
<rect x="382.6" y="409.88" width="14.13" height="14.09" fill="#3cc273"/>
<rect x="396.43" y="409.88" width="14.13" height="14.09" fill="#3ec384"/>
<rect x="410.26" y="409.88" width="14.13" height="14.09" fill="#43c498"/>
<rect x="424.09" y="409.88" width="14.13" height="14.09" fill="#4bc3aa"/>
<rect x="437.92" y="409.88" width="14.13" height="14.09" fill="#69c0d1"/>
<rect x="451.75" y="409.88" width="14.13" height="14.09" fill="#90bdea"/>
<rect x="465.58" y="409.88" width="14.13" height="14.09" fill="#9abded"/>
<rect x="479.41" y="409.88" width="14.13" height="14.09" fill="#bfc2f6"/>
<rect x="493.24" y="409.88" width="7.56" height="14.09" fill="#d6cbf8"/>
<rect x="100.5" y="423.66" width="5.8" height="14.09" fill="#3cc276"/>
<rect x="106" y="423.66" width="14.13" height="14.09" fill="#3cc068"/>
<rect x="119.83" y="423.66" width="14.13" height="14.09" fill="#3fbc54"/>
<rect x="133.66" y="423.66" width="14.13" height="14.09" fill="#46b63e"/>
<rect x="147.49" y="423.66" width="14.13" height="14.09" fill="#45b741"/>
<rect x="161.32" y="423.66" width="14.13" height="14.09" fill="#4bb234"/>
<rect x="175.15" y="423.66" width="14.13" height="14.09" fill="#46b63e"/>
<rect x="188.98" y="423.66" width="14.13" height="14.09" fill="#3fbc54"/>
<rect x="202.81" y="423.66" width="14.13" height="14.09" fill="#3cc068"/>
<rect x="216.64" y="423.66" width="14.13" height="14.09" fill="#3ec381"/>
<rect x="230.47" y="423.66" width="14.13" height="14.09" fill="#41c492"/>
<rect x="244.3" y="423.66" width="14.13" height="14.09" fill="#43c498"/>
<rect x="258.13" y="423.66" width="14.13" height="14.09" fill="#41c490"/>
<rect x="271.96" y="423.66" width="14.13" height="14.09" fill="#3ec384"/>
<rect x="285.79" y="423.66" width="14.13" height="14.09" fill="#3cc273"/>
<rect x="299.62" y="423.66" width="14.13" height="14.09" fill="#3dbf62"/>
<rect x="313.45" y="423.66" width="41.79" height="14.09" fill="#3ebe59"/>
<rect x="354.94" y="423.66" width="14.13" height="14.09" fill="#3dbf5f"/>
<rect x="368.77" y="423.66" width="14.13" height="14.09" fill="#3cc16d"/>
<rect x="382.6" y="423.66" width="14.13" height="14.09" fill="#3dc37c"/>
<rect x="396.43" y="423.66" width="14.13" height="14.09" fill="#41c490"/>
<rect x="410.26" y="423.66" width="14.13" height="14.09" fill="#4fc3b2"/>
<rect x="424.09" y="423.66" width="14.13" height="14.09" fill="#5bc2c2"/>
<rect x="437.92" y="423.66" width="14.13" height="14.09" fill="#6fbfd6"/>
<rect x="451.75" y="423.66" width="14.13" height="14.09" fill="#9abded"/>
<rect x="465.58" y="423.66" width="14.13" height="14.09" fill="#a9bef2"/>
<rect x="479.41" y="423.66" width="14.13" height="14.09" fill="#bfc2f6"/>
<rect x="493.24" y="423.66" width="7.56" height="14.09" fill="#d6cbf8"/>
<rect x="100.5" y="437.45" width="5.8" height="14.09" fill="#3cc273"/>
<rect x="106" y="437.45" width="14.13" height="14.09" fill="#3dbf5f"/>
<rect x="119.83" y="437.45" width="14.13" height="14.09" fill="#3fbc54"/>
<rect x="133.66" y="437.45" width="14.13" height="14.09" fill="#43b946"/>
<rect x="147.49" y="437.45" width="27.96" height="14.09" fill="#48b439"/>
<rect x="175.15" y="437.45" width="14.13" height="14.09" fill="#46b63e"/>
<rect x="188.98" y="437.45" width="14.13" height="14.09" fill="#3ebe59"/>
<rect x="202.81" y="437.45" width="14.13" height="14.09" fill="#3cc16d"/>
<rect x="216.64" y="437.45" width="14.13" height="14.09" fill="#3ec384"/>
<rect x="230.47" y="437.45" width="14.13" height="14.09" fill="#41c492"/>
<rect x="244.3" y="437.45" width="14.13" height="14.09" fill="#45c49d"/>
<rect x="258.13" y="437.45" width="14.13" height="14.09" fill="#43c498"/>
<rect x="271.96" y="437.45" width="14.13" height="14.09" fill="#41c490"/>
<rect x="285.79" y="437.45" width="14.13" height="14.09" fill="#3cc276"/>
<rect x="299.62" y="437.45" width="14.13" height="14.09" fill="#3cc068"/>
<rect x="313.45" y="437.45" width="41.79" height="14.09" fill="#3dbf5f"/>
<rect x="354.94" y="437.45" width="14.13" height="14.09" fill="#3dbf62"/>
<rect x="368.77" y="437.45" width="14.13" height="14.09" fill="#3cc273"/>
<rect x="382.6" y="437.45" width="14.13" height="14.09" fill="#3ec381"/>
<rect x="396.43" y="437.45" width="14.13" height="14.09" fill="#41c490"/>
<rect x="410.26" y="437.45" width="14.13" height="14.09" fill="#4fc3b2"/>
<rect x="424.09" y="437.45" width="14.13" height="14.09" fill="#63c1cb"/>
<rect x="437.92" y="437.45" width="14.13" height="14.09" fill="#74bfd9"/>
<rect x="451.75" y="437.45" width="14.13" height="14.09" fill="#90bdea"/>
<rect x="465.58" y="437.45" width="14.13" height="14.09" fill="#a7bef1"/>
<rect x="479.41" y="437.45" width="14.13" height="14.09" fill="#bfc2f6"/>
<rect x="493.24" y="437.45" width="7.56" height="14.09" fill="#a9bef2"/>
<rect x="100.5" y="451.25" width="5.8" height="14.09" fill="#43c498"/>
<rect x="106" y="451.25" width="14.13" height="14.09" fill="#3dc37c"/>
<rect x="119.83" y="451.25" width="14.13" height="14.09" fill="#3cc273"/>
<rect x="133.66" y="451.25" width="14.13" height="14.09" fill="#3dbf62"/>
<rect x="147.49" y="451.25" width="27.96" height="14.09" fill="#3dbf5f"/>
<rect x="175.15" y="451.25" width="14.13" height="14.09" fill="#3dbf62"/>
<rect x="188.98" y="451.25" width="14.13" height="14.09" fill="#3dc37c"/>
<rect x="202.81" y="451.25" width="14.13" height="14.09" fill="#3fc48a"/>
<rect x="216.64" y="451.25" width="14.13" height="14.09" fill="#49c4a5"/>
<rect x="230.47" y="451.25" width="14.13" height="14.09" fill="#56c2bc"/>
<rect x="244.3" y="451.25" width="27.96" height="14.09" fill="#7fbee1"/>
<rect x="271.96" y="451.25" width="14.13" height="14.09" fill="#78bedd"/>
<rect x="285.79" y="451.25" width="14.13" height="14.09" fill="#74bfd9"/>
<rect x="299.62" y="451.25" width="14.13" height="14.09" fill="#4ec3b0"/>
<rect x="313.45" y="451.25" width="41.79" height="14.09" fill="#47c4a3"/>
<rect x="354.94" y="451.25" width="27.96" height="14.09" fill="#49c4a5"/>
<rect x="382.6" y="451.25" width="14.13" height="14.09" fill="#4ec3b0"/>
<rect x="396.43" y="451.25" width="14.13" height="14.09" fill="#56c2bc"/>
<rect x="410.26" y="451.25" width="14.13" height="14.09" fill="#63c1cb"/>
<rect x="424.09" y="451.25" width="14.13" height="14.09" fill="#74bfd9"/>
<rect x="437.92" y="451.25" width="14.13" height="14.09" fill="#89bde6"/>
<rect x="451.75" y="451.25" width="14.13" height="14.09" fill="#a2bdf0"/>
<rect x="465.58" y="451.25" width="14.13" height="14.09" fill="#c4c3f6"/>
<rect x="479.41" y="451.25" width="14.13" height="14.09" fill="#c6c4f7"/>
<rect x="493.24" y="451.25" width="7.56" height="14.09" fill="#d2c9f7"/>
<rect x="100.5" y="465.03" width="5.8" height="14.09" fill="#4bc3aa"/>
<rect x="106" y="465.03" width="14.13" height="14.09" fill="#3fc48a"/>
<rect x="119.83" y="465.03" width="14.13" height="14.09" fill="#3dc37c"/>
<rect x="133.66" y="465.03" width="14.13" height="14.09" fill="#3dbf5f"/>
<rect x="147.49" y="465.03" width="14.13" height="14.09" fill="#40bc51"/>
<rect x="161.32" y="465.03" width="14.13" height="14.09" fill="#3fbc54"/>
<rect x="175.15" y="465.03" width="14.13" height="14.09" fill="#3dbf5f"/>
<rect x="188.98" y="465.03" width="14.13" height="14.09" fill="#3dc37c"/>
<rect x="202.81" y="465.03" width="14.13" height="14.09" fill="#3fc48a"/>
<rect x="216.64" y="465.03" width="14.13" height="14.09" fill="#47c4a3"/>
<rect x="230.47" y="465.03" width="14.13" height="14.09" fill="#4fc3b2"/>
<rect x="244.3" y="465.03" width="14.13" height="14.09" fill="#5bc2c2"/>
<rect x="258.13" y="465.03" width="14.13" height="14.09" fill="#56c2bc"/>
<rect x="271.96" y="465.03" width="14.13" height="14.09" fill="#4fc3b2"/>
<rect x="285.79" y="465.03" width="14.13" height="14.09" fill="#4ec3b0"/>
<rect x="299.62" y="465.03" width="14.13" height="14.09" fill="#43c498"/>
<rect x="313.45" y="465.03" width="14.13" height="14.09" fill="#3ec384"/>
<rect x="327.28" y="465.03" width="14.13" height="14.09" fill="#3ec381"/>
<rect x="341.11" y="465.03" width="14.13" height="14.09" fill="#3fc48a"/>
<rect x="354.94" y="465.03" width="14.13" height="14.09" fill="#41c490"/>
<rect x="368.77" y="465.03" width="14.13" height="14.09" fill="#45c49d"/>
<rect x="382.6" y="465.03" width="14.13" height="14.09" fill="#49c4a5"/>
<rect x="396.43" y="465.03" width="14.13" height="14.09" fill="#52c3b7"/>
<rect x="410.26" y="465.03" width="14.13" height="14.09" fill="#63c1cb"/>
<rect x="424.09" y="465.03" width="14.13" height="14.09" fill="#78bedd"/>
<rect x="437.92" y="465.03" width="14.13" height="14.09" fill="#89bde6"/>
<rect x="451.75" y="465.03" width="14.13" height="14.09" fill="#a2bdf0"/>
<rect x="465.58" y="465.03" width="14.13" height="14.09" fill="#c4c3f6"/>
<rect x="479.41" y="465.03" width="14.13" height="14.09" fill="#c6c4f7"/>
<rect x="493.24" y="465.03" width="7.56" height="14.09" fill="#d2c9f7"/>
<rect x="100.5" y="478.82" width="5.8" height="14.09" fill="#56c2bc"/>
<rect x="106" y="478.82" width="14.13" height="14.09" fill="#41c492"/>
<rect x="119.83" y="478.82" width="14.13" height="14.09" fill="#3ec384"/>
<rect x="133.66" y="478.82" width="14.13" height="14.09" fill="#3cc273"/>
<rect x="147.49" y="478.82" width="27.96" height="14.09" fill="#3cc068"/>
<rect x="175.15" y="478.82" width="14.13" height="14.09" fill="#3cc273"/>
<rect x="188.98" y="478.82" width="14.13" height="14.09" fill="#3ec384"/>
<rect x="202.81" y="478.82" width="14.13" height="14.09" fill="#47c4a3"/>
<rect x="216.64" y="478.82" width="14.13" height="14.09" fill="#52c3b7"/>
<rect x="230.47" y="478.82" width="14.13" height="14.09" fill="#69c0d1"/>
<rect x="244.3" y="478.82" width="14.13" height="14.09" fill="#78bedd"/>
<rect x="258.13" y="478.82" width="14.13" height="14.09" fill="#7dbee0"/>
<rect x="271.96" y="478.82" width="14.13" height="14.09" fill="#69c0d1"/>
<rect x="285.79" y="478.82" width="14.13" height="14.09" fill="#bfbfbf"/>
<rect x="299.62" y="478.82" width="14.13" height="14.09" fill="#56c2bc"/>
<rect x="313.45" y="478.82" width="14.13" height="14.09" fill="#52c3b7"/>
<rect x="327.28" y="478.82" width="27.96" height="14.09" fill="#4fc3b2"/>
<rect x="354.94" y="478.82" width="14.13" height="14.09" fill="#59c2c0"/>
<rect x="368.77" y="478.82" width="14.13" height="14.09" fill="#63c1cb"/>
<rect x="382.6" y="478.82" width="14.13" height="14.09" fill="#65c0cd"/>
<rect x="396.43" y="478.82" width="14.13" height="14.09" fill="#78bedd"/>
<rect x="410.26" y="478.82" width="14.13" height="14.09" fill="#89bde6"/>
<rect x="424.09" y="478.82" width="14.13" height="14.09" fill="#9dbdee"/>
<rect x="437.92" y="478.82" width="14.13" height="14.09" fill="#a9bef2"/>
<rect x="451.75" y="478.82" width="14.13" height="14.09" fill="#bfc2f6"/>
<rect x="465.58" y="478.82" width="14.13" height="14.09" fill="#c4c3f6"/>
<rect x="479.41" y="478.82" width="14.13" height="14.09" fill="#d6cbf8"/>
<rect x="493.24" y="478.82" width="7.56" height="14.09" fill="#dfd1f8"/>
<rect x="100.5" y="492.62" width="5.8" height="14.09" fill="#6fbfd6"/>
<rect x="106" y="492.62" width="14.13" height="14.09" fill="#5bc2c2"/>
<rect x="119.83" y="492.62" width="14.13" height="14.09" fill="#56c2bc"/>
<rect x="133.66" y="492.62" width="14.13" height="14.09" fill="#4fc3b2"/>
<rect x="147.49" y="492.62" width="27.96" height="14.09" fill="#4ec3b0"/>
<rect x="175.15" y="492.62" width="14.13" height="14.09" fill="#4fc3b2"/>
<rect x="188.98" y="492.62" width="14.13" height="14.09" fill="#5bc2c2"/>
<rect x="202.81" y="492.62" width="14.13" height="14.09" fill="#6fbfd6"/>
<rect x="216.64" y="492.62" width="14.13" height="14.09" fill="#7fbee1"/>
<rect x="230.47" y="492.62" width="14.13" height="14.09" fill="#95bdec"/>
<rect x="244.3" y="492.62" width="14.13" height="14.09" fill="#a9bef2"/>
<rect x="258.13" y="492.62" width="14.13" height="14.09" fill="#bac1f5"/>
<rect x="271.96" y="492.62" width="14.13" height="14.09" fill="#a9bef2"/>
<rect x="285.79" y="492.62" width="14.13" height="14.09" fill="#a2bdf0"/>
<rect x="299.62" y="492.62" width="14.13" height="14.09" fill="#bfbfbf"/>
<rect x="313.45" y="492.62" width="14.13" height="14.09" fill="#7fbee1"/>
<rect x="327.28" y="492.62" width="27.96" height="14.09" fill="#78bedd"/>
<rect x="354.94" y="492.62" width="14.13" height="14.09" fill="#7dbee0"/>
<rect x="368.77" y="492.62" width="14.13" height="14.09" fill="#7fbee1"/>
<rect x="382.6" y="492.62" width="14.13" height="14.09" fill="#89bde6"/>
<rect x="396.43" y="492.62" width="14.13" height="14.09" fill="#95bdec"/>
<rect x="410.26" y="492.62" width="14.13" height="14.09" fill="#9abded"/>
<rect x="424.09" y="492.62" width="14.13" height="14.09" fill="#bfc2f6"/>
<rect x="437.92" y="492.62" width="14.13" height="14.09" fill="#b3bff4"/>
<rect x="451.75" y="492.62" width="14.13" height="14.09" fill="#c6c4f7"/>
<rect x="465.58" y="492.62" width="14.13" height="14.09" fill="#cfc7f7"/>
<rect x="479.41" y="492.62" width="14.13" height="14.09" fill="#d2c9f7"/>
<rect x="493.24" y="492.62" width="7.56" height="14.09" fill="#bfbfbf"/>
<rect x="100.5" y="506.4" width="5.8" height="14.09" fill="#7dbee0"/>
<rect x="106" y="506.4" width="14.13" height="14.09" fill="#63c1cb"/>
<rect x="119.83" y="506.4" width="14.13" height="14.09" fill="#bfbfbf"/>
<rect x="133.66" y="506.4" width="14.13" height="14.09" fill="#59c2c0"/>
<rect x="147.49" y="506.4" width="14.13" height="14.09" fill="#4ec3b0"/>
<rect x="161.32" y="506.4" width="14.13" height="14.09" fill="#52c3b7"/>
<rect x="175.15" y="506.4" width="14.13" height="14.09" fill="#59c2c0"/>
<rect x="188.98" y="506.4" width="14.13" height="14.09" fill="#63c1cb"/>
<rect x="202.81" y="506.4" width="14.13" height="14.09" fill="#78bedd"/>
<rect x="216.64" y="506.4" width="14.13" height="14.09" fill="#a2bdf0"/>
<rect x="230.47" y="506.4" width="14.13" height="14.09" fill="#a9bef2"/>
<rect x="244.3" y="506.4" width="14.13" height="14.09" fill="#c4c3f6"/>
<rect x="258.13" y="506.4" width="14.13" height="14.09" fill="#dbcef8"/>
<rect x="271.96" y="506.4" width="14.13" height="14.09" fill="#bfbfbf"/>
<rect x="285.79" y="506.4" width="14.13" height="14.09" fill="#bfc2f6"/>
<rect x="299.62" y="506.4" width="14.13" height="14.09" fill="#a9bef2"/>
<rect x="313.45" y="506.4" width="14.13" height="14.09" fill="#a2bdf0"/>
<rect x="327.28" y="506.4" width="14.13" height="14.09" fill="#90bdea"/>
<rect x="341.11" y="506.4" width="27.96" height="14.09" fill="#7fbee1"/>
<rect x="368.77" y="506.4" width="14.13" height="14.09" fill="#84bde4"/>
<rect x="382.6" y="506.4" width="14.13" height="14.09" fill="#89bde6"/>
<rect x="396.43" y="506.4" width="14.13" height="14.09" fill="#8bbde7"/>
<rect x="410.26" y="506.4" width="14.13" height="14.09" fill="#9abded"/>
<rect x="424.09" y="506.4" width="14.13" height="14.09" fill="#a9bef2"/>
<rect x="437.92" y="506.4" width="14.13" height="14.09" fill="#b5c0f4"/>
<rect x="451.75" y="506.4" width="27.96" height="14.09" fill="#c4c3f6"/>
<rect x="479.41" y="506.4" width="14.13" height="14.09" fill="#dbcef8"/>
<rect x="493.24" y="506.4" width="7.56" height="14.09" fill="#e1d3f8"/>
<rect x="100.5" y="520.19" width="5.8" height="14.09" fill="#78bedd"/>
<rect x="106" y="520.19" width="14.13" height="14.09" fill="#6dbfd4"/>
<rect x="119.83" y="520.19" width="14.13" height="14.09" fill="#69c0d1"/>
<rect x="133.66" y="520.19" width="14.13" height="14.09" fill="#56c2bc"/>
<rect x="147.49" y="520.19" width="14.13" height="14.09" fill="#5fc1c7"/>
<rect x="161.32" y="520.19" width="14.13" height="14.09" fill="#56c2bc"/>
<rect x="175.15" y="520.19" width="14.13" height="14.09" fill="#5fc1c7"/>
<rect x="188.98" y="520.19" width="14.13" height="14.09" fill="#6dbfd4"/>
<rect x="202.81" y="520.19" width="14.13" height="14.09" fill="#7dbee0"/>
<rect x="216.64" y="520.19" width="14.13" height="14.09" fill="#95bdec"/>
<rect x="230.47" y="520.19" width="14.13" height="14.09" fill="#9abded"/>
<rect x="244.3" y="520.19" width="14.13" height="14.09" fill="#9dbdee"/>
<rect x="258.13" y="520.19" width="27.96" height="14.09" fill="#95bdec"/>
<rect x="285.79" y="520.19" width="14.13" height="14.09" fill="#89bde6"/>
<rect x="299.62" y="520.19" width="14.13" height="14.09" fill="#8bbde7"/>
<rect x="313.45" y="520.19" width="27.96" height="14.09" fill="#6fbfd6"/>
<rect x="341.11" y="520.19" width="14.13" height="14.09" fill="#69c0d1"/>
<rect x="354.94" y="520.19" width="14.13" height="14.09" fill="#6fbfd6"/>
<rect x="368.77" y="520.19" width="27.96" height="14.09" fill="#7fbee1"/>
<rect x="396.43" y="520.19" width="14.13" height="14.09" fill="#89bde6"/>
<rect x="410.26" y="520.19" width="14.13" height="14.09" fill="#95bdec"/>
<rect x="424.09" y="520.19" width="14.13" height="14.09" fill="#9dbdee"/>
<rect x="437.92" y="520.19" width="14.13" height="14.09" fill="#aebef3"/>
<rect x="451.75" y="520.19" width="27.96" height="14.09" fill="#c4c3f6"/>
<rect x="479.41" y="520.19" width="14.13" height="14.09" fill="#bfc2f6"/>
<rect x="493.24" y="520.19" width="7.56" height="14.09" fill="#bfbfbf"/>
<rect x="100.5" y="533.99" width="5.8" height="14.09" fill="#a2bdf0"/>
<rect x="106" y="533.99" width="14.13" height="14.09" fill="#9abded"/>
<rect x="119.83" y="533.99" width="14.13" height="14.09" fill="#84bde4"/>
<rect x="133.66" y="533.99" width="14.13" height="14.09" fill="#7dbee0"/>
<rect x="147.49" y="533.99" width="27.96" height="14.09" fill="#74bfd9"/>
<rect x="175.15" y="533.99" width="14.13" height="14.09" fill="#7dbee0"/>
<rect x="188.98" y="533.99" width="14.13" height="14.09" fill="#9abded"/>
<rect x="202.81" y="533.99" width="14.13" height="14.09" fill="#a7bef1"/>
<rect x="216.64" y="533.99" width="14.13" height="14.09" fill="#b3bff4"/>
<rect x="230.47" y="533.99" width="14.13" height="14.09" fill="#bfc2f6"/>
<rect x="244.3" y="533.99" width="14.13" height="14.09" fill="#d2c9f7"/>
<rect x="258.13" y="533.99" width="14.13" height="14.09" fill="#bfbfbf"/>
<rect x="271.96" y="533.99" width="14.13" height="14.09" fill="#d6cbf8"/>
<rect x="285.79" y="533.99" width="14.13" height="14.09" fill="#ffffff"/>
<rect x="299.62" y="533.99" width="14.13" height="14.09" fill="#bfbfbf"/>
<rect x="313.45" y="533.99" width="14.13" height="14.09" fill="#c6c4f7"/>
<rect x="327.28" y="533.99" width="14.13" height="14.09" fill="#bfc2f6"/>
<rect x="341.11" y="533.99" width="14.13" height="14.09" fill="#b3bff4"/>
<rect x="354.94" y="533.99" width="14.13" height="14.09" fill="#aebef3"/>
<rect x="368.77" y="533.99" width="14.13" height="14.09" fill="#a9bef2"/>
<rect x="382.6" y="533.99" width="14.13" height="14.09" fill="#aebef3"/>
<rect x="396.43" y="533.99" width="14.13" height="14.09" fill="#b3bff4"/>
<rect x="410.26" y="533.99" width="14.13" height="14.09" fill="#bfbfbf"/>
<rect x="424.09" y="533.99" width="14.13" height="14.09" fill="#bfc2f6"/>
<rect x="437.92" y="533.99" width="27.96" height="14.09" fill="#c4c3f6"/>
<rect x="465.58" y="533.99" width="14.13" height="14.09" fill="#cfc7f7"/>
<rect x="479.41" y="533.99" width="14.13" height="14.09" fill="#e1d3f8"/>
<rect x="493.24" y="533.99" width="7.56" height="14.09" fill="#bfbfbf"/>
<rect x="100.5" y="547.77" width="5.8" height="14.09" fill="#a2bdf0"/>
<rect x="106" y="547.77" width="14.13" height="14.09" fill="#9abded"/>
<rect x="119.83" y="547.77" width="14.13" height="14.09" fill="#84bde4"/>
<rect x="133.66" y="547.77" width="14.13" height="14.09" fill="#7dbee0"/>
<rect x="147.49" y="547.77" width="27.96" height="14.09" fill="#74bfd9"/>
<rect x="175.15" y="547.77" width="14.13" height="14.09" fill="#7fbee1"/>
<rect x="188.98" y="547.77" width="14.13" height="14.09" fill="#95bdec"/>
<rect x="202.81" y="547.77" width="14.13" height="14.09" fill="#a7bef1"/>
<rect x="216.64" y="547.77" width="14.13" height="14.09" fill="#b5c0f4"/>
<rect x="230.47" y="547.77" width="27.96" height="14.09" fill="#d6cbf8"/>
<rect x="258.13" y="547.77" width="14.13" height="14.09" fill="#bfbfbf"/>
<rect x="271.96" y="547.77" width="14.13" height="14.09" fill="#b3bff4"/>
<rect x="285.79" y="547.77" width="14.13" height="14.09" fill="#bfbfbf"/>
<rect x="299.62" y="547.77" width="14.13" height="14.09" fill="#9dbdee"/>
<rect x="313.45" y="547.77" width="14.13" height="14.09" fill="#9abded"/>
<rect x="327.28" y="547.77" width="14.13" height="14.09" fill="#9dbdee"/>
<rect x="341.11" y="547.77" width="14.13" height="14.09" fill="#a7bef1"/>
<rect x="354.94" y="547.77" width="14.13" height="14.09" fill="#a9bef2"/>
<rect x="368.77" y="547.77" width="14.13" height="14.09" fill="#a7bef1"/>
<rect x="382.6" y="547.77" width="14.13" height="14.09" fill="#a9bef2"/>
<rect x="396.43" y="547.77" width="14.13" height="14.09" fill="#b3bff4"/>
<rect x="410.26" y="547.77" width="14.13" height="14.09" fill="#b5c0f4"/>
<rect x="424.09" y="547.77" width="14.13" height="14.09" fill="#bfbfbf"/>
<rect x="437.92" y="547.77" width="14.13" height="14.09" fill="#e6d7f9"/>
<rect x="451.75" y="547.77" width="14.13" height="14.09" fill="#ffffff"/>
<rect x="465.58" y="547.77" width="14.13" height="14.09" fill="#dfd1f8"/>
<rect x="479.41" y="547.77" width="14.13" height="14.09" fill="#ffffff"/>
<rect x="493.24" y="547.77" width="7.56" height="14.09" fill="#6f9516"/>
<rect x="100.5" y="561.56" width="5.8" height="14.09" fill="#a2bdf0"/>
<rect x="106" y="561.56" width="14.13" height="14.09" fill="#89bde6"/>
<rect x="119.83" y="561.56" width="14.13" height="14.09" fill="#84bde4"/>
<rect x="133.66" y="561.56" width="14.13" height="14.09" fill="#7fbee1"/>
<rect x="147.49" y="561.56" width="27.96" height="14.09" fill="#7dbee0"/>
<rect x="175.15" y="561.56" width="14.13" height="14.09" fill="#84bde4"/>
<rect x="188.98" y="561.56" width="14.13" height="14.09" fill="#95bdec"/>
<rect x="202.81" y="561.56" width="14.13" height="14.09" fill="#a9bef2"/>
<rect x="216.64" y="561.56" width="27.96" height="14.09" fill="#c4c3f6"/>
<rect x="244.3" y="561.56" width="14.13" height="14.09" fill="#cbc5f7"/>
<rect x="258.13" y="561.56" width="14.13" height="14.09" fill="#b3bff4"/>
<rect x="271.96" y="561.56" width="14.13" height="14.09" fill="#aebef3"/>
<rect x="285.79" y="561.56" width="14.13" height="14.09" fill="#a9bef2"/>
<rect x="299.62" y="561.56" width="14.13" height="14.09" fill="#9abded"/>
<rect x="313.45" y="561.56" width="14.13" height="14.09" fill="#89bde6"/>
<rect x="327.28" y="561.56" width="14.13" height="14.09" fill="#9abded"/>
<rect x="341.11" y="561.56" width="14.13" height="14.09" fill="#8bbde7"/>
<rect x="354.94" y="561.56" width="14.13" height="14.09" fill="#a7bef1"/>
<rect x="368.77" y="561.56" width="14.13" height="14.09" fill="#b3bff4"/>
<rect x="382.6" y="561.56" width="14.13" height="14.09" fill="#bfc2f6"/>
<rect x="396.43" y="561.56" width="14.13" height="14.09" fill="#cbc5f7"/>
<rect x="410.26" y="561.56" width="14.13" height="14.09" fill="#dbcef8"/>
<rect x="424.09" y="561.56" width="14.13" height="14.09" fill="#d6cbf8"/>
<rect x="437.92" y="561.56" width="27.96" height="14.09" fill="#e1d3f8"/>
<rect x="465.58" y="561.56" width="14.13" height="14.09" fill="#bfbfbf"/>
<rect x="479.41" y="561.56" width="14.13" height="14.09" fill="#e6d7f9"/>
<rect x="493.24" y="561.56" width="7.56" height="14.09" fill="#dbcef8"/>
<rect x="100.5" y="575.36" width="5.8" height="14.09" fill="#c4c3f6"/>
<rect x="106" y="575.36" width="14.13" height="14.09" fill="#b3bff4"/>
<rect x="119.83" y="575.36" width="14.13" height="14.09" fill="#9dbdee"/>
<rect x="133.66" y="575.36" width="14.13" height="14.09" fill="#a2bdf0"/>
<rect x="147.49" y="575.36" width="41.79" height="14.09" fill="#90bdea"/>
<rect x="188.98" y="575.36" width="14.13" height="14.09" fill="#a2bdf0"/>
<rect x="202.81" y="575.36" width="14.13" height="14.09" fill="#bfc2f6"/>
<rect x="216.64" y="575.36" width="14.13" height="14.09" fill="#c6c4f7"/>
<rect x="230.47" y="575.36" width="14.13" height="14.09" fill="#c4c3f6"/>
<rect x="244.3" y="575.36" width="14.13" height="14.09" fill="#d2c9f7"/>
<rect x="258.13" y="575.36" width="14.13" height="14.09" fill="#d6cbf8"/>
<rect x="271.96" y="575.36" width="14.13" height="14.09" fill="#bac1f5"/>
<rect x="285.79" y="575.36" width="14.13" height="14.09" fill="#b5c0f4"/>
<rect x="299.62" y="575.36" width="14.13" height="14.09" fill="#aebef3"/>
<rect x="313.45" y="575.36" width="41.79" height="14.09" fill="#a7bef1"/>
<rect x="354.94" y="575.36" width="14.13" height="14.09" fill="#a9bef2"/>
<rect x="368.77" y="575.36" width="14.13" height="14.09" fill="#a7bef1"/>
<rect x="382.6" y="575.36" width="14.13" height="14.09" fill="#b5c0f4"/>
<rect x="396.43" y="575.36" width="27.96" height="14.09" fill="#bac1f5"/>
<rect x="424.09" y="575.36" width="27.96" height="14.09" fill="#bfbfbf"/>
<rect x="451.75" y="575.36" width="14.13" height="14.09" fill="#ffffff"/>
<rect x="465.58" y="575.36" width="27.96" height="14.09" fill="#eadcf9"/>
<rect x="493.24" y="575.36" width="7.56" height="14.09" fill="#ffffff"/>
<rect x="100.5" y="589.14" width="5.8" height="14.09" fill="#d2c9f7"/>
<rect x="106" y="589.14" width="14.13" height="14.09" fill="#bfc2f6"/>
<rect x="119.83" y="589.14" width="55.62" height="14.09" fill="#aebef3"/>
<rect x="175.15" y="589.14" width="14.13" height="14.09" fill="#b3bff4"/>
<rect x="188.98" y="589.14" width="14.13" height="14.09" fill="#bac1f5"/>
<rect x="202.81" y="589.14" width="14.13" height="14.09" fill="#cbc5f7"/>
<rect x="216.64" y="589.14" width="14.13" height="14.09" fill="#dbcef8"/>
<rect x="230.47" y="589.14" width="27.96" height="14.09" fill="#bfbfbf"/>
<rect x="258.13" y="589.14" width="14.13" height="14.09" fill="#f1e6fa"/>
<rect x="271.96" y="589.14" width="14.13" height="14.09" fill="#ffffff"/>
<rect x="285.79" y="589.14" width="14.13" height="14.09" fill="#d6cbf8"/>
<rect x="299.62" y="589.14" width="14.13" height="14.09" fill="#bfbfbf"/>
<rect x="313.45" y="589.14" width="14.13" height="14.09" fill="#dfd1f8"/>
<rect x="327.28" y="589.14" width="14.13" height="14.09" fill="#bfbfbf"/>
<rect x="341.11" y="589.14" width="14.13" height="14.09" fill="#cfc7f7"/>
<rect x="354.94" y="589.14" width="14.13" height="14.09" fill="#bfbfbf"/>
<rect x="368.77" y="589.14" width="14.13" height="14.09" fill="#d2c9f7"/>
<rect x="382.6" y="589.14" width="14.13" height="14.09" fill="#cfc7f7"/>
<rect x="396.43" y="589.14" width="14.13" height="14.09" fill="#bfbfbf"/>
<rect x="410.26" y="589.14" width="14.13" height="14.09" fill="#bfc2f6"/>
<rect x="424.09" y="589.14" width="14.13" height="14.09" fill="#ffffff"/>
<rect x="437.92" y="589.14" width="27.96" height="14.09" fill="#bfbfbf"/>
<rect x="465.58" y="589.14" width="27.96" height="14.09" fill="#ffffff"/>
<rect x="493.24" y="589.14" width="7.56" height="14.09" fill="#bfbfbf"/>
<rect x="100.5" y="602.93" width="5.8" height="14.09" fill="#cbc5f7"/>
<rect x="106" y="602.93" width="14.13" height="14.09" fill="#bac1f5"/>
<rect x="119.83" y="602.93" width="14.13" height="14.09" fill="#a9bef2"/>
<rect x="133.66" y="602.93" width="27.96" height="14.09" fill="#a2bdf0"/>
<rect x="161.32" y="602.93" width="14.13" height="14.09" fill="#95bdec"/>
<rect x="175.15" y="602.93" width="14.13" height="14.09" fill="#9dbdee"/>
<rect x="188.98" y="602.93" width="14.13" height="14.09" fill="#b3bff4"/>
<rect x="202.81" y="602.93" width="14.13" height="14.09" fill="#bfc2f6"/>
<rect x="216.64" y="602.93" width="14.13" height="14.09" fill="#cfc7f7"/>
<rect x="230.47" y="602.93" width="14.13" height="14.09" fill="#dfd1f8"/>
<rect x="244.3" y="602.93" width="27.96" height="14.09" fill="#cfc7f7"/>
<rect x="271.96" y="602.93" width="14.13" height="14.09" fill="#cbc5f7"/>
<rect x="285.79" y="602.93" width="14.13" height="14.09" fill="#bac1f5"/>
<rect x="299.62" y="602.93" width="14.13" height="14.09" fill="#b3bff4"/>
<rect x="313.45" y="602.93" width="14.13" height="14.09" fill="#bfc2f6"/>
<rect x="327.28" y="602.93" width="14.13" height="14.09" fill="#bac1f5"/>
<rect x="341.11" y="602.93" width="14.13" height="14.09" fill="#bfc2f6"/>
<rect x="354.94" y="602.93" width="14.13" height="14.09" fill="#e6d7f9"/>
<rect x="368.77" y="602.93" width="14.13" height="14.09" fill="#c4c3f6"/>
<rect x="382.6" y="602.93" width="27.96" height="14.09" fill="#ffffff"/>
<rect x="410.26" y="602.93" width="14.13" height="14.09" fill="#bfbfbf"/>
<rect x="424.09" y="602.93" width="14.13" height="14.09" fill="#d2c9f7"/>
<rect x="437.92" y="602.93" width="27.96" height="14.09" fill="#ffffff"/>
<rect x="465.58" y="602.93" width="14.13" height="14.09" fill="#bfbfbf"/>
<rect x="479.41" y="602.93" width="14.13" height="14.09" fill="#eadcf9"/>
<rect x="493.24" y="602.93" width="7.56" height="14.09" fill="#ffffff"/>
<rect x="100.5" y="616.73" width="5.8" height="14.09" fill="#d6cbf8"/>
<rect x="106" y="616.73" width="14.13" height="14.09" fill="#c4c3f6"/>
<rect x="119.83" y="616.73" width="14.13" height="14.09" fill="#b3bff4"/>
<rect x="133.66" y="616.73" width="55.62" height="14.09" fill="#aebef3"/>
<rect x="188.98" y="616.73" width="14.13" height="14.09" fill="#b5c0f4"/>
<rect x="202.81" y="616.73" width="14.13" height="14.09" fill="#cbc5f7"/>
<rect x="216.64" y="616.73" width="41.79" height="14.09" fill="#bfbfbf"/>
<rect x="258.13" y="616.73" width="14.13" height="14.09" fill="#673384"/>
<rect x="271.96" y="616.73" width="14.13" height="14.09" fill="#d6cbf8"/>
<rect x="285.79" y="616.73" width="14.13" height="14.09" fill="#dbcef8"/>
<rect x="299.62" y="616.73" width="14.13" height="14.09" fill="#d6cbf8"/>
<rect x="313.45" y="616.73" width="14.13" height="14.09" fill="#bac1f5"/>
<rect x="327.28" y="616.73" width="27.96" height="14.09" fill="#d2c9f7"/>
<rect x="354.94" y="616.73" width="14.13" height="14.09" fill="#bfbfbf"/>
<rect x="368.77" y="616.73" width="27.96" height="14.09" fill="#ffffff"/>
<rect x="396.43" y="616.73" width="69.45" height="14.09" fill="#bfbfbf"/>
<rect x="465.58" y="616.73" width="27.96" height="14.09" fill="#ffffff"/>
<rect x="493.24" y="616.73" width="7.56" height="14.09" fill="#f1e6fa"/>
<rect x="100.5" y="630.51" width="5.8" height="14.09" fill="#dbcef8"/>
<rect x="106" y="630.51" width="14.13" height="14.09" fill="#bfbfbf"/>
<rect x="119.83" y="630.51" width="14.13" height="14.09" fill="#cfc7f7"/>
<rect x="133.66" y="630.51" width="14.13" height="14.09" fill="#dbcef8"/>
<rect x="147.49" y="630.51" width="41.79" height="14.09" fill="#cbc5f7"/>
<rect x="188.98" y="630.51" width="14.13" height="14.09" fill="#d6cbf8"/>
<rect x="202.81" y="630.51" width="27.96" height="14.09" fill="#bfbfbf"/>
<rect x="230.47" y="630.51" width="14.13" height="14.09" fill="#e1d3f8"/>
<rect x="244.3" y="630.51" width="14.13" height="14.09" fill="#ffffff"/>
<rect x="258.13" y="630.51" width="14.13" height="14.09" fill="#cfc7f7"/>
<rect x="271.96" y="630.51" width="14.13" height="14.09" fill="#673384"/>
<rect x="285.79" y="630.51" width="27.96" height="14.09" fill="#bfbfbf"/>
<rect x="313.45" y="630.51" width="14.13" height="14.09" fill="#ffffff"/>
<rect x="327.28" y="630.51" width="27.96" height="14.09" fill="#bfbfbf"/>
<rect x="354.94" y="630.51" width="14.13" height="14.09" fill="#d2c9f7"/>
<rect x="368.77" y="630.51" width="14.13" height="14.09" fill="#dbcef8"/>
<rect x="382.6" y="630.51" width="41.79" height="14.09" fill="#bac1f5"/>
<rect x="424.09" y="630.51" width="14.13" height="14.09" fill="#dbcef8"/>
<rect x="437.92" y="630.51" width="14.13" height="14.09" fill="#bfbfbf"/>
<rect x="451.75" y="630.51" width="14.13" height="14.09" fill="#dbcef8"/>
<rect x="465.58" y="630.51" width="14.13" height="14.09" fill="#bfbfbf"/>
<rect x="479.41" y="630.51" width="14.13" height="14.09" fill="#dbcef8"/>
<rect x="493.24" y="630.51" width="7.56" height="14.09" fill="#bfbfbf"/>
<rect x="100.5" y="644.3" width="5.8" height="7.5" fill="#d2c9f7"/>
<rect x="106" y="644.3" width="14.13" height="7.5" fill="#cfc7f7"/>
<rect x="119.83" y="644.3" width="14.13" height="7.5" fill="#c4c3f6"/>
<rect x="133.66" y="644.3" width="14.13" height="7.5" fill="#bfc2f6"/>
<rect x="147.49" y="644.3" width="14.13" height="7.5" fill="#bac1f5"/>
<rect x="161.32" y="644.3" width="14.13" height="7.5" fill="#c4c3f6"/>
<rect x="175.15" y="644.3" width="27.96" height="7.5" fill="#c6c4f7"/>
<rect x="202.81" y="644.3" width="14.13" height="7.5" fill="#eadcf9"/>
<rect x="216.64" y="644.3" width="14.13" height="7.5" fill="#bfbfbf"/>
<rect x="230.47" y="644.3" width="14.13" height="7.5" fill="#ffffff"/>
<rect x="244.3" y="644.3" width="14.13" height="7.5" fill="#bfbfbf"/>
<rect x="258.13" y="644.3" width="14.13" height="7.5" fill="#ffffff"/>
<rect x="271.96" y="644.3" width="14.13" height="7.5" fill="#d2c9f7"/>
<rect x="285.79" y="644.3" width="14.13" height="7.5" fill="#d6cbf8"/>
<rect x="299.62" y="644.3" width="14.13" height="7.5" fill="#bfbfbf"/>
<rect x="313.45" y="644.3" width="14.13" height="7.5" fill="#d6cbf8"/>
<rect x="327.28" y="644.3" width="14.13" height="7.5" fill="#dfd1f8"/>
<rect x="341.11" y="644.3" width="14.13" height="7.5" fill="#f1e6fa"/>
<rect x="354.94" y="644.3" width="69.45" height="7.5" fill="#bfbfbf"/>
<rect x="424.09" y="644.3" width="14.13" height="7.5" fill="#ffffff"/>
<rect x="437.92" y="644.3" width="14.13" height="7.5" fill="#bfbfbf"/>
<rect x="451.75" y="644.3" width="27.96" height="7.5" fill="#f1e6fa"/>
<rect x="479.41" y="644.3" width="21.39" height="7.5" fill="#bfbfbf"/>
</g>
<g stroke="#b0b0b0" stroke-width="1.1">
<line x1="144.5" x2="144.5" y1="99.5" y2="651.5"/>
<line x1="199.5" x2="199.5" y1="99.5" y2="651.5"/>
<line x1="255.5" x2="255.5" y1="99.5" y2="651.5"/>
<line x1="310.5" x2="310.5" y1="99.5" y2="651.5"/>
<line x1="366.5" x2="366.5" y1="99.5" y2="651.5"/>
<line x1="422.5" x2="422.5" y1="99.5" y2="651.5"/>
<line x1="477.5" x2="477.5" y1="99.5" y2="651.5"/>
<line x1="100.5" x2="500.5" y1="122.5" y2="122.5"/>
<line x1="100.5" x2="500.5" y1="233.5" y2="233.5"/>
<line x1="100.5" x2="500.5" y1="344.5" y2="344.5"/>
<line x1="100.5" x2="500.5" y1="456.5" y2="456.5"/>
<line x1="100.5" x2="500.5" y1="567.5" y2="567.5"/>
</g>
<clipPath id="ax"><rect x="100.5" y="99.5" width="400" height="552"/></clipPath>
<line clip-path="url(#ax)" x1="100.4" y1="498.9" x2="500.4" y2="98.9" stroke="#000" stroke-width="2.08" stroke-dasharray="2.08 3.44" stroke-dashoffset="0.57"/>
<g stroke="#000" stroke-width="1.1">
<line x1="144.5" x2="144.5" y1="651.5" y2="656.4"/>
<line x1="199.5" x2="199.5" y1="651.5" y2="656.4"/>
<line x1="255.5" x2="255.5" y1="651.5" y2="656.4"/>
<line x1="310.5" x2="310.5" y1="651.5" y2="656.4"/>
<line x1="366.5" x2="366.5" y1="651.5" y2="656.4"/>
<line x1="422.5" x2="422.5" y1="651.5" y2="656.4"/>
<line x1="477.5" x2="477.5" y1="651.5" y2="656.4"/>
<line x1="95.6" x2="100.5" y1="122.5" y2="122.5"/>
<line x1="95.6" x2="100.5" y1="233.5" y2="233.5"/>
<line x1="95.6" x2="100.5" y1="344.5" y2="344.5"/>
<line x1="95.6" x2="100.5" y1="456.5" y2="456.5"/>
<line x1="95.6" x2="100.5" y1="567.5" y2="567.5"/>
</g>
<rect x="100.5" y="99.5" width="400" height="552" fill="none" stroke="#000" stroke-width="1.1"/>
<g shape-rendering="crispEdges">
<rect x="525.5" y="649.34" width="25" height="2.56" fill="#ffffff"/>
<rect x="525.5" y="647.19" width="25" height="2.56" fill="#f8f0fc"/>
<rect x="525.5" y="645.03" width="25" height="2.56" fill="#f4eafb"/>
<rect x="525.5" y="642.88" width="25" height="2.56" fill="#f1e6fa"/>
<rect x="525.5" y="640.72" width="25" height="2.56" fill="#efe2fa"/>
<rect x="525.5" y="638.56" width="25" height="2.56" fill="#ecdff9"/>
<rect x="525.5" y="636.41" width="25" height="2.56" fill="#eadcf9"/>
<rect x="525.5" y="634.25" width="25" height="2.56" fill="#e8d9f9"/>
<rect x="525.5" y="632.09" width="25" height="2.56" fill="#e6d7f9"/>
<rect x="525.5" y="629.94" width="25" height="2.56" fill="#e3d5f8"/>
<rect x="525.5" y="627.78" width="25" height="2.56" fill="#e1d3f8"/>
<rect x="525.5" y="625.62" width="25" height="2.56" fill="#dfd1f8"/>
<rect x="525.5" y="623.47" width="25" height="2.56" fill="#ddcff8"/>
<rect x="525.5" y="621.31" width="25" height="2.56" fill="#dbcef8"/>
<rect x="525.5" y="619.16" width="25" height="2.56" fill="#d8ccf8"/>
<rect x="525.5" y="617" width="25" height="2.56" fill="#d6cbf8"/>
<rect x="525.5" y="614.84" width="25" height="2.56" fill="#d4caf8"/>
<rect x="525.5" y="612.69" width="25" height="2.56" fill="#d2c9f7"/>
<rect x="525.5" y="610.53" width="25" height="2.56" fill="#cfc7f7"/>
<rect x="525.5" y="608.38" width="25" height="2.56" fill="#cdc6f7"/>
<rect x="525.5" y="606.22" width="25" height="2.56" fill="#cbc5f7"/>
<rect x="525.5" y="604.06" width="25" height="2.56" fill="#c9c5f7"/>
<rect x="525.5" y="601.91" width="25" height="2.56" fill="#c6c4f7"/>
<rect x="525.5" y="599.75" width="25" height="2.56" fill="#c4c3f6"/>
<rect x="525.5" y="597.59" width="25" height="2.56" fill="#c1c2f6"/>
<rect x="525.5" y="595.44" width="25" height="2.56" fill="#bfc2f6"/>
<rect x="525.5" y="593.28" width="25" height="2.56" fill="#bdc1f6"/>
<rect x="525.5" y="591.12" width="25" height="2.56" fill="#bac1f5"/>
<rect x="525.5" y="588.97" width="25" height="2.56" fill="#b8c0f5"/>
<rect x="525.5" y="586.81" width="25" height="2.56" fill="#b5c0f4"/>
<rect x="525.5" y="584.66" width="25" height="2.56" fill="#b3bff4"/>
<rect x="525.5" y="582.5" width="25" height="2.56" fill="#b0bff4"/>
<rect x="525.5" y="580.34" width="25" height="2.56" fill="#aebef3"/>
<rect x="525.5" y="578.19" width="25" height="2.56" fill="#abbef2"/>
<rect x="525.5" y="576.03" width="25" height="2.56" fill="#a9bef2"/>
<rect x="525.5" y="573.88" width="25" height="2.56" fill="#a7bef1"/>
<rect x="525.5" y="571.72" width="25" height="2.56" fill="#a4bdf1"/>
<rect x="525.5" y="569.56" width="25" height="2.56" fill="#a2bdf0"/>
<rect x="525.5" y="567.41" width="25" height="2.56" fill="#9fbdef"/>
<rect x="525.5" y="565.25" width="25" height="2.56" fill="#9dbdee"/>
<rect x="525.5" y="563.09" width="25" height="2.56" fill="#9abded"/>
<rect x="525.5" y="560.94" width="25" height="2.56" fill="#98bded"/>
<rect x="525.5" y="558.78" width="25" height="2.56" fill="#95bdec"/>
<rect x="525.5" y="556.62" width="25" height="2.56" fill="#93bdeb"/>
<rect x="525.5" y="554.47" width="25" height="2.56" fill="#90bdea"/>
<rect x="525.5" y="552.31" width="25" height="2.56" fill="#8ebde8"/>
<rect x="525.5" y="550.16" width="25" height="2.56" fill="#8bbde7"/>
<rect x="525.5" y="548" width="25" height="2.56" fill="#89bde6"/>
<rect x="525.5" y="545.84" width="25" height="2.56" fill="#86bde5"/>
<rect x="525.5" y="543.69" width="25" height="2.56" fill="#84bde4"/>
<rect x="525.5" y="541.53" width="25" height="2.56" fill="#82bee2"/>
<rect x="525.5" y="539.38" width="25" height="2.56" fill="#7fbee1"/>
<rect x="525.5" y="537.22" width="25" height="2.56" fill="#7dbee0"/>
<rect x="525.5" y="535.06" width="25" height="2.56" fill="#7abede"/>
<rect x="525.5" y="532.91" width="25" height="2.56" fill="#78bedd"/>
<rect x="525.5" y="530.75" width="25" height="2.56" fill="#76bfdb"/>
<rect x="525.5" y="528.59" width="25" height="2.56" fill="#74bfd9"/>
<rect x="525.5" y="526.44" width="25" height="2.56" fill="#71bfd8"/>
<rect x="525.5" y="524.28" width="25" height="2.56" fill="#6fbfd6"/>
<rect x="525.5" y="522.12" width="25" height="2.56" fill="#6dbfd4"/>
<rect x="525.5" y="519.97" width="25" height="2.56" fill="#6bc0d2"/>
<rect x="525.5" y="517.81" width="25" height="2.56" fill="#69c0d1"/>
<rect x="525.5" y="515.66" width="25" height="2.56" fill="#67c0cf"/>
<rect x="525.5" y="513.5" width="25" height="2.56" fill="#65c0cd"/>
<rect x="525.5" y="511.34" width="25" height="2.56" fill="#63c1cb"/>
<rect x="525.5" y="509.19" width="25" height="2.56" fill="#61c1c9"/>
<rect x="525.5" y="507.03" width="25" height="2.56" fill="#5fc1c7"/>
<rect x="525.5" y="504.88" width="25" height="2.56" fill="#5dc1c4"/>
<rect x="525.5" y="502.72" width="25" height="2.56" fill="#5bc2c2"/>
<rect x="525.5" y="500.56" width="25" height="2.56" fill="#59c2c0"/>
<rect x="525.5" y="498.41" width="25" height="2.56" fill="#57c2be"/>
<rect x="525.5" y="496.25" width="25" height="2.56" fill="#56c2bc"/>
<rect x="525.5" y="494.09" width="25" height="2.56" fill="#54c2b9"/>
<rect x="525.5" y="491.94" width="25" height="2.56" fill="#52c3b7"/>
<rect x="525.5" y="489.78" width="25" height="2.56" fill="#51c3b4"/>
<rect x="525.5" y="487.62" width="25" height="2.56" fill="#4fc3b2"/>
<rect x="525.5" y="485.47" width="25" height="2.56" fill="#4ec3b0"/>
<rect x="525.5" y="483.31" width="25" height="2.56" fill="#4cc3ad"/>
<rect x="525.5" y="481.16" width="25" height="2.56" fill="#4bc3aa"/>
<rect x="525.5" y="479" width="25" height="2.56" fill="#4ac3a8"/>
<rect x="525.5" y="476.84" width="25" height="2.56" fill="#49c4a5"/>
<rect x="525.5" y="474.69" width="25" height="2.56" fill="#47c4a3"/>
<rect x="525.5" y="472.53" width="25" height="2.56" fill="#46c4a0"/>
<rect x="525.5" y="470.38" width="25" height="2.56" fill="#45c49d"/>
<rect x="525.5" y="468.22" width="25" height="2.56" fill="#44c49b"/>
<rect x="525.5" y="466.06" width="25" height="2.56" fill="#43c498"/>
<rect x="525.5" y="463.91" width="25" height="2.56" fill="#42c495"/>
<rect x="525.5" y="461.75" width="25" height="2.56" fill="#41c492"/>
<rect x="525.5" y="459.59" width="25" height="2.56" fill="#41c490"/>
<rect x="525.5" y="457.44" width="25" height="2.56" fill="#40c48d"/>
<rect x="525.5" y="455.28" width="25" height="2.56" fill="#3fc48a"/>
<rect x="525.5" y="453.12" width="25" height="2.56" fill="#3fc387"/>
<rect x="525.5" y="450.97" width="25" height="2.56" fill="#3ec384"/>
<rect x="525.5" y="448.81" width="25" height="2.56" fill="#3ec381"/>
<rect x="525.5" y="446.66" width="25" height="2.56" fill="#3dc37f"/>
<rect x="525.5" y="444.5" width="25" height="2.56" fill="#3dc37c"/>
<rect x="525.5" y="442.34" width="25" height="2.56" fill="#3dc279"/>
<rect x="525.5" y="440.19" width="25" height="2.56" fill="#3cc276"/>
<rect x="525.5" y="438.03" width="25" height="2.56" fill="#3cc273"/>
<rect x="525.5" y="435.88" width="25" height="2.56" fill="#3cc170"/>
<rect x="525.5" y="433.72" width="25" height="2.56" fill="#3cc16d"/>
<rect x="525.5" y="431.56" width="25" height="2.56" fill="#3cc16a"/>
<rect x="525.5" y="429.41" width="25" height="2.56" fill="#3cc068"/>
<rect x="525.5" y="427.25" width="25" height="2.56" fill="#3dc065"/>
<rect x="525.5" y="425.09" width="25" height="2.56" fill="#3dbf62"/>
<rect x="525.5" y="422.94" width="25" height="2.56" fill="#3dbf5f"/>
<rect x="525.5" y="420.78" width="25" height="2.56" fill="#3ebe5c"/>
<rect x="525.5" y="418.62" width="25" height="2.56" fill="#3ebe59"/>
<rect x="525.5" y="416.47" width="25" height="2.56" fill="#3ebd56"/>
<rect x="525.5" y="414.31" width="25" height="2.56" fill="#3fbc54"/>
<rect x="525.5" y="412.16" width="25" height="2.56" fill="#40bc51"/>
<rect x="525.5" y="410" width="25" height="2.56" fill="#40bb4e"/>
<rect x="525.5" y="407.84" width="25" height="2.56" fill="#41ba4b"/>
<rect x="525.5" y="405.69" width="25" height="2.56" fill="#42ba49"/>
<rect x="525.5" y="403.53" width="25" height="2.56" fill="#43b946"/>
<rect x="525.5" y="401.38" width="25" height="2.56" fill="#44b843"/>
<rect x="525.5" y="399.22" width="25" height="2.56" fill="#45b741"/>
<rect x="525.5" y="397.06" width="25" height="2.56" fill="#46b63e"/>
<rect x="525.5" y="394.91" width="25" height="2.56" fill="#47b53c"/>
<rect x="525.5" y="392.75" width="25" height="2.56" fill="#48b439"/>
<rect x="525.5" y="390.59" width="25" height="2.56" fill="#49b336"/>
<rect x="525.5" y="388.44" width="25" height="2.56" fill="#4bb234"/>
<rect x="525.5" y="386.28" width="25" height="2.56" fill="#4cb132"/>
<rect x="525.5" y="384.12" width="25" height="2.56" fill="#4db02f"/>
<rect x="525.5" y="381.97" width="25" height="2.56" fill="#4faf2d"/>
<rect x="525.5" y="379.81" width="25" height="2.56" fill="#50ae2b"/>
<rect x="525.5" y="377.66" width="25" height="2.56" fill="#52ac28"/>
<rect x="525.5" y="375.5" width="25" height="2.56" fill="#54ab26"/>
<rect x="525.5" y="373.34" width="25" height="2.56" fill="#55aa24"/>
<rect x="525.5" y="371.19" width="25" height="2.56" fill="#57a922"/>
<rect x="525.5" y="369.03" width="25" height="2.56" fill="#59a720"/>
<rect x="525.5" y="366.88" width="25" height="2.56" fill="#5ba61e"/>
<rect x="525.5" y="364.72" width="25" height="2.56" fill="#5da41d"/>
<rect x="525.5" y="362.56" width="25" height="2.56" fill="#5fa21c"/>
<rect x="525.5" y="360.41" width="25" height="2.56" fill="#61a11b"/>
<rect x="525.5" y="358.25" width="25" height="2.56" fill="#639f1a"/>
<rect x="525.5" y="356.09" width="25" height="2.56" fill="#659d19"/>
<rect x="525.5" y="353.94" width="25" height="2.56" fill="#679c18"/>
<rect x="525.5" y="351.78" width="25" height="2.56" fill="#699a17"/>
<rect x="525.5" y="349.62" width="25" height="2.56" fill="#6b9817"/>
<rect x="525.5" y="347.47" width="25" height="2.56" fill="#6d9616"/>
<rect x="525.5" y="345.31" width="25" height="2.56" fill="#6f9516"/>
<rect x="525.5" y="343.16" width="25" height="2.56" fill="#719315"/>
<rect x="525.5" y="341" width="25" height="2.56" fill="#739115"/>
<rect x="525.5" y="338.84" width="25" height="2.56" fill="#758f14"/>
<rect x="525.5" y="336.69" width="25" height="2.56" fill="#778e14"/>
<rect x="525.5" y="334.53" width="25" height="2.56" fill="#798c13"/>
<rect x="525.5" y="332.38" width="25" height="2.56" fill="#7b8a13"/>
<rect x="525.5" y="330.22" width="25" height="2.56" fill="#7d8813"/>
<rect x="525.5" y="328.06" width="25" height="2.56" fill="#7f8713"/>
<rect x="525.5" y="325.91" width="25" height="2.56" fill="#818513"/>
<rect x="525.5" y="323.75" width="25" height="2.56" fill="#838313"/>
<rect x="525.5" y="321.59" width="25" height="2.56" fill="#858113"/>
<rect x="525.5" y="319.44" width="25" height="2.56" fill="#877f13"/>
<rect x="525.5" y="317.28" width="25" height="2.56" fill="#897e13"/>
<rect x="525.5" y="315.12" width="25" height="2.56" fill="#8a7c14"/>
<rect x="525.5" y="312.97" width="25" height="2.56" fill="#8c7a14"/>
<rect x="525.5" y="310.81" width="25" height="2.56" fill="#8e7914"/>
<rect x="525.5" y="308.66" width="25" height="2.56" fill="#8f7715"/>
<rect x="525.5" y="306.5" width="25" height="2.56" fill="#917515"/>
<rect x="525.5" y="304.34" width="25" height="2.56" fill="#937316"/>
<rect x="525.5" y="302.19" width="25" height="2.56" fill="#947216"/>
<rect x="525.5" y="300.03" width="25" height="2.56" fill="#967017"/>
<rect x="525.5" y="297.88" width="25" height="2.56" fill="#976e18"/>
<rect x="525.5" y="295.72" width="25" height="2.56" fill="#996d19"/>
<rect x="525.5" y="293.56" width="25" height="2.56" fill="#9a6b19"/>
<rect x="525.5" y="291.41" width="25" height="2.56" fill="#9c691a"/>
<rect x="525.5" y="289.25" width="25" height="2.56" fill="#9d681b"/>
<rect x="525.5" y="287.09" width="25" height="2.56" fill="#9e661c"/>
<rect x="525.5" y="284.94" width="25" height="2.56" fill="#9f651d"/>
<rect x="525.5" y="282.78" width="25" height="2.56" fill="#a1631e"/>
<rect x="525.5" y="280.62" width="25" height="2.56" fill="#a2611f"/>
<rect x="525.5" y="278.47" width="25" height="2.56" fill="#a36020"/>
<rect x="525.5" y="276.31" width="25" height="2.56" fill="#a45e21"/>
<rect x="525.5" y="274.16" width="25" height="2.56" fill="#a55d22"/>
<rect x="525.5" y="272" width="25" height="2.56" fill="#a65b23"/>
<rect x="525.5" y="269.84" width="25" height="2.56" fill="#a75a25"/>
<rect x="525.5" y="267.69" width="25" height="2.56" fill="#a85826"/>
<rect x="525.5" y="265.53" width="25" height="2.56" fill="#a95727"/>
<rect x="525.5" y="263.38" width="25" height="2.56" fill="#aa5628"/>
<rect x="525.5" y="261.22" width="25" height="2.56" fill="#aa542a"/>
<rect x="525.5" y="259.06" width="25" height="2.56" fill="#ab532b"/>
<rect x="525.5" y="256.91" width="25" height="2.56" fill="#ac522c"/>
<rect x="525.5" y="254.75" width="25" height="2.56" fill="#ac502e"/>
<rect x="525.5" y="252.59" width="25" height="2.56" fill="#ad4f2f"/>
<rect x="525.5" y="250.44" width="25" height="2.56" fill="#ad4e31"/>
<rect x="525.5" y="248.28" width="25" height="2.56" fill="#ae4c32"/>
<rect x="525.5" y="246.12" width="25" height="2.56" fill="#ae4b34"/>
<rect x="525.5" y="243.97" width="25" height="2.56" fill="#af4a35"/>
<rect x="525.5" y="241.81" width="25" height="2.56" fill="#af4937"/>
<rect x="525.5" y="239.66" width="25" height="2.56" fill="#af4838"/>
<rect x="525.5" y="237.5" width="25" height="2.56" fill="#af473a"/>
<rect x="525.5" y="235.34" width="25" height="2.56" fill="#b0453b"/>
<rect x="525.5" y="233.19" width="25" height="2.56" fill="#b0443d"/>
<rect x="525.5" y="231.03" width="25" height="2.56" fill="#b0433f"/>
<rect x="525.5" y="228.88" width="25" height="2.56" fill="#b04240"/>
<rect x="525.5" y="226.72" width="25" height="2.56" fill="#b04142"/>
<rect x="525.5" y="224.56" width="25" height="2.56" fill="#b04043"/>
<rect x="525.5" y="222.41" width="25" height="2.56" fill="#af3f45"/>
<rect x="525.5" y="220.25" width="25" height="2.56" fill="#af3f47"/>
<rect x="525.5" y="218.09" width="25" height="2.56" fill="#af3e48"/>
<rect x="525.5" y="215.94" width="25" height="2.56" fill="#af3d4a"/>
<rect x="525.5" y="213.78" width="25" height="2.56" fill="#ae3c4b"/>
<rect x="525.5" y="211.62" width="25" height="2.56" fill="#ae3b4d"/>
<rect x="525.5" y="209.47" width="25" height="2.56" fill="#ad3a4f"/>
<rect x="525.5" y="207.31" width="25" height="2.56" fill="#ad3a50"/>
<rect x="525.5" y="205.16" width="25" height="2.56" fill="#ac3952"/>
<rect x="525.5" y="203" width="25" height="2.56" fill="#ac3853"/>
<rect x="525.5" y="200.84" width="25" height="2.56" fill="#ab3855"/>
<rect x="525.5" y="198.69" width="25" height="2.56" fill="#ab3757"/>
<rect x="525.5" y="196.53" width="25" height="2.56" fill="#aa3658"/>
<rect x="525.5" y="194.38" width="25" height="2.56" fill="#a9365a"/>
<rect x="525.5" y="192.22" width="25" height="2.56" fill="#a8355b"/>
<rect x="525.5" y="190.06" width="25" height="2.56" fill="#a7355d"/>
<rect x="525.5" y="187.91" width="25" height="2.56" fill="#a6345e"/>
<rect x="525.5" y="185.75" width="25" height="2.56" fill="#a63460"/>
<rect x="525.5" y="183.59" width="25" height="2.56" fill="#a53361"/>
<rect x="525.5" y="181.44" width="25" height="2.56" fill="#a43363"/>
<rect x="525.5" y="179.28" width="25" height="2.56" fill="#a23264"/>
<rect x="525.5" y="177.12" width="25" height="2.56" fill="#a13266"/>
<rect x="525.5" y="174.97" width="25" height="2.56" fill="#a03267"/>
<rect x="525.5" y="172.81" width="25" height="2.56" fill="#9f3168"/>
<rect x="525.5" y="170.66" width="25" height="2.56" fill="#9e316a"/>
<rect x="525.5" y="168.5" width="25" height="2.56" fill="#9d316b"/>
<rect x="525.5" y="166.34" width="25" height="2.56" fill="#9b316c"/>
<rect x="525.5" y="164.19" width="25" height="2.56" fill="#9a306e"/>
<rect x="525.5" y="162.03" width="25" height="2.56" fill="#99306f"/>
<rect x="525.5" y="159.88" width="25" height="2.56" fill="#973070"/>
<rect x="525.5" y="157.72" width="25" height="2.56" fill="#963071"/>
<rect x="525.5" y="155.56" width="25" height="2.56" fill="#943072"/>
<rect x="525.5" y="153.41" width="25" height="2.56" fill="#933073"/>
<rect x="525.5" y="151.25" width="25" height="2.56" fill="#912f75"/>
<rect x="525.5" y="149.09" width="25" height="2.56" fill="#902f76"/>
<rect x="525.5" y="146.94" width="25" height="2.56" fill="#8e2f77"/>
<rect x="525.5" y="144.78" width="25" height="2.56" fill="#8d2f78"/>
<rect x="525.5" y="142.62" width="25" height="2.56" fill="#8b2f79"/>
<rect x="525.5" y="140.47" width="25" height="2.56" fill="#8a2f7a"/>
<rect x="525.5" y="138.31" width="25" height="2.56" fill="#882f7a"/>
<rect x="525.5" y="136.16" width="25" height="2.56" fill="#862f7b"/>
<rect x="525.5" y="134" width="25" height="2.56" fill="#84307c"/>
<rect x="525.5" y="131.84" width="25" height="2.56" fill="#83307d"/>
<rect x="525.5" y="129.69" width="25" height="2.56" fill="#81307e"/>
<rect x="525.5" y="127.53" width="25" height="2.56" fill="#7f307e"/>
<rect x="525.5" y="125.38" width="25" height="2.56" fill="#7e307f"/>
<rect x="525.5" y="123.22" width="25" height="2.56" fill="#7c3080"/>
<rect x="525.5" y="121.06" width="25" height="2.56" fill="#7a3080"/>
<rect x="525.5" y="118.91" width="25" height="2.56" fill="#783181"/>
<rect x="525.5" y="116.75" width="25" height="2.56" fill="#763181"/>
<rect x="525.5" y="114.59" width="25" height="2.56" fill="#743182"/>
<rect x="525.5" y="112.44" width="25" height="2.56" fill="#733182"/>
<rect x="525.5" y="110.28" width="25" height="2.56" fill="#713283"/>
<rect x="525.5" y="108.12" width="25" height="2.56" fill="#6f3283"/>
<rect x="525.5" y="105.97" width="25" height="2.56" fill="#6d3283"/>
<rect x="525.5" y="103.81" width="25" height="2.56" fill="#6b3284"/>
<rect x="525.5" y="101.66" width="25" height="2.56" fill="#693384"/>
<rect x="525.5" y="99.5" width="25" height="2.56" fill="#673384"/>
</g>
<rect x="525.5" y="99.5" width="25" height="552" fill="none" stroke="#000" stroke-width="1.1"/>
<g stroke="#000" stroke-width="1.1">
<line x1="550.5" x2="555.4" y1="651.5" y2="651.5"/>
<line x1="550.5" x2="555.4" y1="596.3" y2="596.3"/>
<line x1="550.5" x2="555.4" y1="541.1" y2="541.1"/>
<line x1="550.5" x2="555.4" y1="485.9" y2="485.9"/>
<line x1="550.5" x2="555.4" y1="430.7" y2="430.7"/>
<line x1="550.5" x2="555.4" y1="375.5" y2="375.5"/>
<line x1="550.5" x2="555.4" y1="320.3" y2="320.3"/>
<line x1="550.5" x2="555.4" y1="265.1" y2="265.1"/>
<line x1="550.5" x2="555.4" y1="209.9" y2="209.9"/>
<line x1="550.5" x2="555.4" y1="154.7" y2="154.7"/>
<line x1="550.5" x2="555.4" y1="99.5" y2="99.5"/>
</g>
<g font-size="19.44px" letter-spacing="-0.3">
<text x="559.9" y="658.9">0.00</text>
<text x="559.9" y="603.7">0.07</text>
<text x="559.9" y="548.5">0.15</text>
<text x="559.9" y="493.3">0.22</text>
<text x="559.9" y="438.1">0.30</text>
<text x="559.9" y="382.9">0.38</text>
<text x="559.9" y="327.7">0.45</text>
<text x="559.9" y="272.5">0.53</text>
<text x="559.9" y="217.3">0.60</text>
<text x="559.9" y="162.9">0.67</text>
<text x="559.9" y="107.7">0.75</text>
<text x="89.9" y="129.9" text-anchor="end">2.1</text>
<text x="89.9" y="240.9" text-anchor="end">2.0</text>
<text x="89.9" y="351.9" text-anchor="end">1.9</text>
<text x="89.9" y="463.9" text-anchor="end">1.8</text>
<text x="89.9" y="574.9" text-anchor="end">1.7</text>
<text transform="translate(141.9,684.8) rotate(-45)" text-anchor="middle" y="7.1">1.80</text>
<text transform="translate(196.9,684.8) rotate(-45)" text-anchor="middle" y="7.1">1.85</text>
<text transform="translate(252.9,684.8) rotate(-45)" text-anchor="middle" y="7.1">1.90</text>
<text transform="translate(307.9,684.8) rotate(-45)" text-anchor="middle" y="7.1">1.95</text>
<text transform="translate(363.9,684.8) rotate(-45)" text-anchor="middle" y="7.1">2.00</text>
<text transform="translate(419.9,684.8) rotate(-45)" text-anchor="middle" y="7.1">2.05</text>
<text transform="translate(474.9,684.8) rotate(-45)" text-anchor="middle" y="7.1">2.10</text>
</g>
<text x="325" y="36.9" font-size="27.78px" text-anchor="middle">MoS2 outs</text>
<g font-size="25px">
<text x="239.2" y="70">τ</text>
<text x="253.6" y="73.9" font-size="17.5px">22</text>
<text transform="translate(275.4,87.8) scale(0.75,1.5)">′</text>
<text x="285.5" y="70">=</text>
<text x="319.6" y="70">−</text>
<text x="345.4" y="70">2.7</text>
<text x="390.3" y="70">fs</text>
<text x="205.4" y="730.3" font-style="italic">ℏ</text>
<text x="221.3" y="730.3">ω</text>
<text x="243.1" y="734.2" font-size="17.5px">1</text>
<text x="258.5" y="730.3">=</text>
<text x="285.0" y="730.3" font-style="italic">ℏ</text>
<text x="301.0" y="730.3">ω</text>
<text x="321.8" y="734.2" font-size="17.5px">m</text>
<text x="343.5" y="730.3">(eV)</text>
</g>
<g transform="translate(47.3,0) rotate(-90)" font-size="23.8px">
<text x="-424.9" y="0" font-style="italic">ℏ</text>
<text x="-410.9" y="0">ω</text>
<text x="-391.3" y="3.0" font-size="16.6px">2</text>
<text x="-375.6" y="0">(eV)</text>
</g>
<text transform="translate(628.1,378.05) rotate(-90)" font-size="25px" text-anchor="middle">amplitude</text>
</svg></body></html>
